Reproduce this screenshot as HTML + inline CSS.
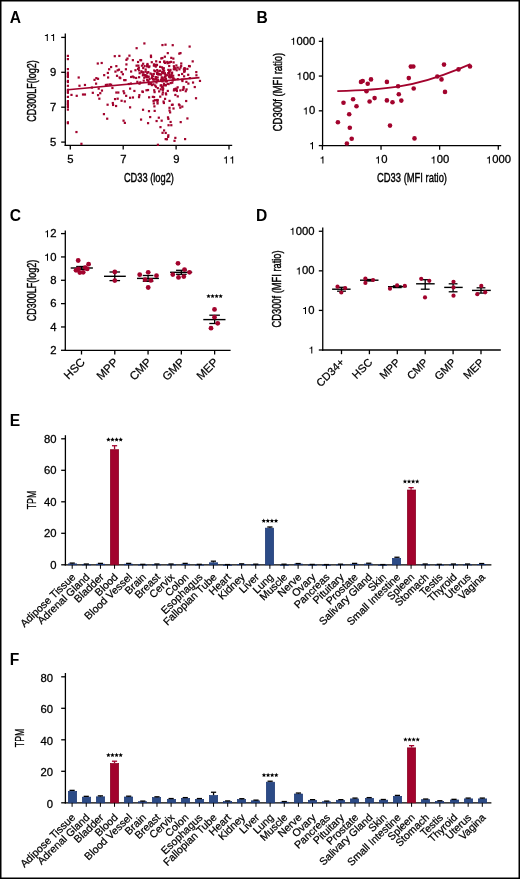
<!DOCTYPE html>
<html><head><meta charset="utf-8"><style>
html,body{margin:0;padding:0;background:#fff;width:520px;height:879px;overflow:hidden;}
svg{display:block;font-family:"Liberation Sans",sans-serif;will-change:transform;}
</style></head><body>
<svg width="520" height="879" viewBox="0 0 520 879" font-family="Liberation Sans, sans-serif">
<rect x="0" y="0" width="520" height="879" fill="#fff"/>
<text x="9.80" y="23.00" font-size="15.6" text-anchor="start" font-weight="bold" >A</text>
<line x1="65.30" y1="33.50" x2="65.30" y2="146.05" stroke="#000" stroke-width="1.3"/>
<line x1="64.65" y1="145.40" x2="232.20" y2="145.40" stroke="#000" stroke-width="1.3"/>
<line x1="61.20" y1="37.40" x2="65.30" y2="37.40" stroke="#000" stroke-width="1.3"/>
<polygon points="46.79,40.95 47.81,40.95 47.81,33.89 46.98,33.89 46.79,34.40 46.15,35.05 44.85,35.30 44.85,35.98 46.79,35.98" fill="#000"/>
<polygon points="53.08,40.95 54.09,40.95 54.09,33.89 53.27,33.89 53.08,34.40 52.43,35.05 51.13,35.30 51.13,35.98 53.08,35.98" fill="#000"/>
<line x1="61.20" y1="72.30" x2="65.30" y2="72.30" stroke="#000" stroke-width="1.3"/>
<text x="0" y="0" font-size="10" stroke="#000" stroke-width="0.26" transform="translate(50.12 75.85) scale(1.13 1)">9</text>
<line x1="61.20" y1="107.20" x2="65.30" y2="107.20" stroke="#000" stroke-width="1.3"/>
<text x="0" y="0" font-size="10" stroke="#000" stroke-width="0.26" transform="translate(50.12 110.75) scale(1.13 1)">7</text>
<line x1="61.20" y1="142.10" x2="65.30" y2="142.10" stroke="#000" stroke-width="1.3"/>
<text x="0" y="0" font-size="10" stroke="#000" stroke-width="0.26" transform="translate(50.12 145.65) scale(1.13 1)">5</text>
<line x1="70.30" y1="145.40" x2="70.30" y2="149.60" stroke="#000" stroke-width="1.3"/>
<text x="0" y="0" font-size="10" stroke="#000" stroke-width="0.26" transform="translate(67.36 163.40) scale(1.13 1)">5</text>
<line x1="123.20" y1="145.40" x2="123.20" y2="149.60" stroke="#000" stroke-width="1.3"/>
<text x="0" y="0" font-size="10" stroke="#000" stroke-width="0.26" transform="translate(120.26 163.40) scale(1.13 1)">7</text>
<line x1="176.10" y1="145.40" x2="176.10" y2="149.60" stroke="#000" stroke-width="1.3"/>
<text x="0" y="0" font-size="10" stroke="#000" stroke-width="0.26" transform="translate(173.16 163.40) scale(1.13 1)">9</text>
<line x1="229.00" y1="145.40" x2="229.00" y2="149.60" stroke="#000" stroke-width="1.3"/>
<polygon points="225.88,163.40 226.89,163.40 226.89,156.34 226.07,156.34 225.88,156.85 225.23,157.50 223.93,157.75 223.93,158.43 225.88,158.43" fill="#000"/>
<polygon points="232.16,163.40 233.18,163.40 233.18,156.34 232.35,156.34 232.16,156.85 231.52,157.50 230.22,157.75 230.22,158.43 232.16,158.43" fill="#000"/>
<text x="148.90" y="181.50" font-size="13.2" text-anchor="middle" textLength="50" lengthAdjust="spacingAndGlyphs" stroke="#000" stroke-width="0.42" >CD33 (log2)</text>
<text x="36.00" y="91.00" font-size="13.2" text-anchor="middle" textLength="61.5" lengthAdjust="spacingAndGlyphs" transform="rotate(-90 36.00 91.00)" stroke="#000" stroke-width="0.42" >CD300LF(log2)</text>
<rect x="66.80" y="54.80" width="2.2" height="2.2" fill="#a2032d"/>
<rect x="66.80" y="58.00" width="2.2" height="2.2" fill="#a2032d"/>
<rect x="66.80" y="68.00" width="2.2" height="2.2" fill="#a2032d"/>
<rect x="66.80" y="71.60" width="2.2" height="2.2" fill="#a2032d"/>
<rect x="66.80" y="73.00" width="2.2" height="2.2" fill="#a2032d"/>
<rect x="66.80" y="74.70" width="2.2" height="2.2" fill="#a2032d"/>
<rect x="66.80" y="75.90" width="2.2" height="2.2" fill="#a2032d"/>
<rect x="66.80" y="79.80" width="2.2" height="2.2" fill="#a2032d"/>
<rect x="66.80" y="80.90" width="2.2" height="2.2" fill="#a2032d"/>
<rect x="66.80" y="84.70" width="2.2" height="2.2" fill="#a2032d"/>
<rect x="66.80" y="88.70" width="2.2" height="2.2" fill="#a2032d"/>
<rect x="66.80" y="90.30" width="2.2" height="2.2" fill="#a2032d"/>
<rect x="66.80" y="91.70" width="2.2" height="2.2" fill="#a2032d"/>
<rect x="66.80" y="95.80" width="2.2" height="2.2" fill="#a2032d"/>
<rect x="66.80" y="100.00" width="2.2" height="2.2" fill="#a2032d"/>
<rect x="66.80" y="101.40" width="2.2" height="2.2" fill="#a2032d"/>
<rect x="66.80" y="102.80" width="2.2" height="2.2" fill="#a2032d"/>
<rect x="66.80" y="104.10" width="2.2" height="2.2" fill="#a2032d"/>
<rect x="66.80" y="106.00" width="2.2" height="2.2" fill="#a2032d"/>
<rect x="66.80" y="108.50" width="2.2" height="2.2" fill="#a2032d"/>
<rect x="66.80" y="121.20" width="2.2" height="2.2" fill="#a2032d"/>
<rect x="66.80" y="122.10" width="2.2" height="2.2" fill="#a2032d"/>
<rect x="77.59" y="76.41" width="2.2" height="2.2" fill="#a2032d"/>
<rect x="78.37" y="84.65" width="2.2" height="2.2" fill="#a2032d"/>
<rect x="83.86" y="83.86" width="2.2" height="2.2" fill="#a2032d"/>
<rect x="75.62" y="94.72" width="2.2" height="2.2" fill="#a2032d"/>
<rect x="70.39" y="93.80" width="2.2" height="2.2" fill="#a2032d"/>
<rect x="81.90" y="93.41" width="2.2" height="2.2" fill="#a2032d"/>
<rect x="83.86" y="93.41" width="2.2" height="2.2" fill="#a2032d"/>
<rect x="75.36" y="130.94" width="2.2" height="2.2" fill="#a2032d"/>
<rect x="80.33" y="142.72" width="2.2" height="2.2" fill="#a2032d"/>
<rect x="91.71" y="91.71" width="2.2" height="2.2" fill="#a2032d"/>
<rect x="90.80" y="86.48" width="2.2" height="2.2" fill="#a2032d"/>
<rect x="96.68" y="62.41" width="2.2" height="2.2" fill="#a2032d"/>
<rect x="100.60" y="61.89" width="2.2" height="2.2" fill="#a2032d"/>
<rect x="93.41" y="78.76" width="2.2" height="2.2" fill="#a2032d"/>
<rect x="95.24" y="77.06" width="2.2" height="2.2" fill="#a2032d"/>
<rect x="96.94" y="77.71" width="2.2" height="2.2" fill="#a2032d"/>
<rect x="94.98" y="82.55" width="2.2" height="2.2" fill="#a2032d"/>
<rect x="97.60" y="87.52" width="2.2" height="2.2" fill="#a2032d"/>
<rect x="96.94" y="94.06" width="2.2" height="2.2" fill="#a2032d"/>
<rect x="99.17" y="92.10" width="2.2" height="2.2" fill="#a2032d"/>
<rect x="98.25" y="97.59" width="2.2" height="2.2" fill="#a2032d"/>
<rect x="100.87" y="89.48" width="2.2" height="2.2" fill="#a2032d"/>
<rect x="103.09" y="74.05" width="2.2" height="2.2" fill="#a2032d"/>
<rect x="102.83" y="113.03" width="2.2" height="2.2" fill="#a2032d"/>
<rect x="106.10" y="117.60" width="2.2" height="2.2" fill="#a2032d"/>
<rect x="106.49" y="103.61" width="2.2" height="2.2" fill="#a2032d"/>
<rect x="107.01" y="76.41" width="2.2" height="2.2" fill="#a2032d"/>
<rect x="106.75" y="71.83" width="2.2" height="2.2" fill="#a2032d"/>
<rect x="108.06" y="68.17" width="2.2" height="2.2" fill="#a2032d"/>
<rect x="110.02" y="65.94" width="2.2" height="2.2" fill="#a2032d"/>
<rect x="104.79" y="83.86" width="2.2" height="2.2" fill="#a2032d"/>
<rect x="106.49" y="83.60" width="2.2" height="2.2" fill="#a2032d"/>
<rect x="108.71" y="83.34" width="2.2" height="2.2" fill="#a2032d"/>
<rect x="110.02" y="83.60" width="2.2" height="2.2" fill="#a2032d"/>
<rect x="111.33" y="86.87" width="2.2" height="2.2" fill="#a2032d"/>
<rect x="111.72" y="101.91" width="2.2" height="2.2" fill="#a2032d"/>
<rect x="111.98" y="103.87" width="2.2" height="2.2" fill="#a2032d"/>
<rect x="113.68" y="55.09" width="2.2" height="2.2" fill="#a2032d"/>
<rect x="115.25" y="65.03" width="2.2" height="2.2" fill="#a2032d"/>
<rect x="114.34" y="70.52" width="2.2" height="2.2" fill="#a2032d"/>
<rect x="115.91" y="74.71" width="2.2" height="2.2" fill="#a2032d"/>
<rect x="116.56" y="69.21" width="2.2" height="2.2" fill="#a2032d"/>
<rect x="117.87" y="68.56" width="2.2" height="2.2" fill="#a2032d"/>
<rect x="118.26" y="54.83" width="2.2" height="2.2" fill="#a2032d"/>
<rect x="118.52" y="76.41" width="2.2" height="2.2" fill="#a2032d"/>
<rect x="119.18" y="77.06" width="2.2" height="2.2" fill="#a2032d"/>
<rect x="115.25" y="91.45" width="2.2" height="2.2" fill="#a2032d"/>
<rect x="117.21" y="91.45" width="2.2" height="2.2" fill="#a2032d"/>
<rect x="113.95" y="97.99" width="2.2" height="2.2" fill="#a2032d"/>
<rect x="116.56" y="97.59" width="2.2" height="2.2" fill="#a2032d"/>
<rect x="114.99" y="104.92" width="2.2" height="2.2" fill="#a2032d"/>
<rect x="120.48" y="70.91" width="2.2" height="2.2" fill="#a2032d"/>
<rect x="121.79" y="73.14" width="2.2" height="2.2" fill="#a2032d"/>
<rect x="123.10" y="79.02" width="2.2" height="2.2" fill="#a2032d"/>
<rect x="124.41" y="79.02" width="2.2" height="2.2" fill="#a2032d"/>
<rect x="120.48" y="99.69" width="2.2" height="2.2" fill="#a2032d"/>
<rect x="123.75" y="100.34" width="2.2" height="2.2" fill="#a2032d"/>
<rect x="122.45" y="90.14" width="2.2" height="2.2" fill="#a2032d"/>
<rect x="123.10" y="92.10" width="2.2" height="2.2" fill="#a2032d"/>
<rect x="125.06" y="94.72" width="2.2" height="2.2" fill="#a2032d"/>
<rect x="124.80" y="68.17" width="2.2" height="2.2" fill="#a2032d"/>
<rect x="125.32" y="63.33" width="2.2" height="2.2" fill="#a2032d"/>
<rect x="125.32" y="58.75" width="2.2" height="2.2" fill="#a2032d"/>
<rect x="126.37" y="57.44" width="2.2" height="2.2" fill="#a2032d"/>
<rect x="128.33" y="54.56" width="2.2" height="2.2" fill="#a2032d"/>
<rect x="122.45" y="119.57" width="2.2" height="2.2" fill="#a2032d"/>
<rect x="123.75" y="121.79" width="2.2" height="2.2" fill="#a2032d"/>
<rect x="128.99" y="87.52" width="2.2" height="2.2" fill="#a2032d"/>
<rect x="128.99" y="96.68" width="2.2" height="2.2" fill="#a2032d"/>
<rect x="128.99" y="106.23" width="2.2" height="2.2" fill="#a2032d"/>
<rect x="127.68" y="82.95" width="2.2" height="2.2" fill="#a2032d"/>
<rect x="139.27" y="58.97" width="2.2" height="2.2" fill="#a2032d"/>
<rect x="171.62" y="44.08" width="2.2" height="2.2" fill="#a2032d"/>
<rect x="163.65" y="72.42" width="2.2" height="2.2" fill="#a2032d"/>
<rect x="146.98" y="75.79" width="2.2" height="2.2" fill="#a2032d"/>
<rect x="137.90" y="69.29" width="2.2" height="2.2" fill="#a2032d"/>
<rect x="172.09" y="74.65" width="2.2" height="2.2" fill="#a2032d"/>
<rect x="152.72" y="102.36" width="2.2" height="2.2" fill="#a2032d"/>
<rect x="160.92" y="66.27" width="2.2" height="2.2" fill="#a2032d"/>
<rect x="162.69" y="67.10" width="2.2" height="2.2" fill="#a2032d"/>
<rect x="153.16" y="69.35" width="2.2" height="2.2" fill="#a2032d"/>
<rect x="195.34" y="74.19" width="2.2" height="2.2" fill="#a2032d"/>
<rect x="162.97" y="82.66" width="2.2" height="2.2" fill="#a2032d"/>
<rect x="195.20" y="70.99" width="2.2" height="2.2" fill="#a2032d"/>
<rect x="134.36" y="69.13" width="2.2" height="2.2" fill="#a2032d"/>
<rect x="171.57" y="103.59" width="2.2" height="2.2" fill="#a2032d"/>
<rect x="143.28" y="42.34" width="2.2" height="2.2" fill="#a2032d"/>
<rect x="154.90" y="85.63" width="2.2" height="2.2" fill="#a2032d"/>
<rect x="164.85" y="80.20" width="2.2" height="2.2" fill="#a2032d"/>
<rect x="173.50" y="78.28" width="2.2" height="2.2" fill="#a2032d"/>
<rect x="158.75" y="73.25" width="2.2" height="2.2" fill="#a2032d"/>
<rect x="152.95" y="63.28" width="2.2" height="2.2" fill="#a2032d"/>
<rect x="148.01" y="96.23" width="2.2" height="2.2" fill="#a2032d"/>
<rect x="144.77" y="75.27" width="2.2" height="2.2" fill="#a2032d"/>
<rect x="132.76" y="76.29" width="2.2" height="2.2" fill="#a2032d"/>
<rect x="188.73" y="77.00" width="2.2" height="2.2" fill="#a2032d"/>
<rect x="161.78" y="71.85" width="2.2" height="2.2" fill="#a2032d"/>
<rect x="163.83" y="61.83" width="2.2" height="2.2" fill="#a2032d"/>
<rect x="157.82" y="73.07" width="2.2" height="2.2" fill="#a2032d"/>
<rect x="170.48" y="76.28" width="2.2" height="2.2" fill="#a2032d"/>
<rect x="171.02" y="71.51" width="2.2" height="2.2" fill="#a2032d"/>
<rect x="161.35" y="43.97" width="2.2" height="2.2" fill="#a2032d"/>
<rect x="150.74" y="83.99" width="2.2" height="2.2" fill="#a2032d"/>
<rect x="130.01" y="70.43" width="2.2" height="2.2" fill="#a2032d"/>
<rect x="182.53" y="87.46" width="2.2" height="2.2" fill="#a2032d"/>
<rect x="167.11" y="72.00" width="2.2" height="2.2" fill="#a2032d"/>
<rect x="146.92" y="88.94" width="2.2" height="2.2" fill="#a2032d"/>
<rect x="173.79" y="68.07" width="2.2" height="2.2" fill="#a2032d"/>
<rect x="179.42" y="66.42" width="2.2" height="2.2" fill="#a2032d"/>
<rect x="154.06" y="84.39" width="2.2" height="2.2" fill="#a2032d"/>
<rect x="163.01" y="78.61" width="2.2" height="2.2" fill="#a2032d"/>
<rect x="175.78" y="89.89" width="2.2" height="2.2" fill="#a2032d"/>
<rect x="170.29" y="73.74" width="2.2" height="2.2" fill="#a2032d"/>
<rect x="142.44" y="71.13" width="2.2" height="2.2" fill="#a2032d"/>
<rect x="161.77" y="91.30" width="2.2" height="2.2" fill="#a2032d"/>
<rect x="168.80" y="61.18" width="2.2" height="2.2" fill="#a2032d"/>
<rect x="154.68" y="75.98" width="2.2" height="2.2" fill="#a2032d"/>
<rect x="163.80" y="72.21" width="2.2" height="2.2" fill="#a2032d"/>
<rect x="179.26" y="89.32" width="2.2" height="2.2" fill="#a2032d"/>
<rect x="183.37" y="68.21" width="2.2" height="2.2" fill="#a2032d"/>
<rect x="161.87" y="67.90" width="2.2" height="2.2" fill="#a2032d"/>
<rect x="150.78" y="76.85" width="2.2" height="2.2" fill="#a2032d"/>
<rect x="168.10" y="64.90" width="2.2" height="2.2" fill="#a2032d"/>
<rect x="188.54" y="45.47" width="2.2" height="2.2" fill="#a2032d"/>
<rect x="131.68" y="75.46" width="2.2" height="2.2" fill="#a2032d"/>
<rect x="145.51" y="75.32" width="2.2" height="2.2" fill="#a2032d"/>
<rect x="151.80" y="78.06" width="2.2" height="2.2" fill="#a2032d"/>
<rect x="183.70" y="69.34" width="2.2" height="2.2" fill="#a2032d"/>
<rect x="143.99" y="73.95" width="2.2" height="2.2" fill="#a2032d"/>
<rect x="171.72" y="79.41" width="2.2" height="2.2" fill="#a2032d"/>
<rect x="166.68" y="52.02" width="2.2" height="2.2" fill="#a2032d"/>
<rect x="155.89" y="63.77" width="2.2" height="2.2" fill="#a2032d"/>
<rect x="130.03" y="75.90" width="2.2" height="2.2" fill="#a2032d"/>
<rect x="154.60" y="63.80" width="2.2" height="2.2" fill="#a2032d"/>
<rect x="183.78" y="67.58" width="2.2" height="2.2" fill="#a2032d"/>
<rect x="157.56" y="72.94" width="2.2" height="2.2" fill="#a2032d"/>
<rect x="147.18" y="71.03" width="2.2" height="2.2" fill="#a2032d"/>
<rect x="150.68" y="61.13" width="2.2" height="2.2" fill="#a2032d"/>
<rect x="170.18" y="56.75" width="2.2" height="2.2" fill="#a2032d"/>
<rect x="145.39" y="89.16" width="2.2" height="2.2" fill="#a2032d"/>
<rect x="179.38" y="51.99" width="2.2" height="2.2" fill="#a2032d"/>
<rect x="138.55" y="72.08" width="2.2" height="2.2" fill="#a2032d"/>
<rect x="176.65" y="95.29" width="2.2" height="2.2" fill="#a2032d"/>
<rect x="178.31" y="68.22" width="2.2" height="2.2" fill="#a2032d"/>
<rect x="149.86" y="54.55" width="2.2" height="2.2" fill="#a2032d"/>
<rect x="174.27" y="93.86" width="2.2" height="2.2" fill="#a2032d"/>
<rect x="137.27" y="64.54" width="2.2" height="2.2" fill="#a2032d"/>
<rect x="138.40" y="82.58" width="2.2" height="2.2" fill="#a2032d"/>
<rect x="163.75" y="55.62" width="2.2" height="2.2" fill="#a2032d"/>
<rect x="170.08" y="75.23" width="2.2" height="2.2" fill="#a2032d"/>
<rect x="136.26" y="80.72" width="2.2" height="2.2" fill="#a2032d"/>
<rect x="165.05" y="93.31" width="2.2" height="2.2" fill="#a2032d"/>
<rect x="156.42" y="71.11" width="2.2" height="2.2" fill="#a2032d"/>
<rect x="147.57" y="75.55" width="2.2" height="2.2" fill="#a2032d"/>
<rect x="168.73" y="76.22" width="2.2" height="2.2" fill="#a2032d"/>
<rect x="155.35" y="81.40" width="2.2" height="2.2" fill="#a2032d"/>
<rect x="161.54" y="77.18" width="2.2" height="2.2" fill="#a2032d"/>
<rect x="143.18" y="76.65" width="2.2" height="2.2" fill="#a2032d"/>
<rect x="142.06" y="62.68" width="2.2" height="2.2" fill="#a2032d"/>
<rect x="162.79" y="101.91" width="2.2" height="2.2" fill="#a2032d"/>
<rect x="177.74" y="73.96" width="2.2" height="2.2" fill="#a2032d"/>
<rect x="156.69" y="87.04" width="2.2" height="2.2" fill="#a2032d"/>
<rect x="184.66" y="90.13" width="2.2" height="2.2" fill="#a2032d"/>
<rect x="156.57" y="76.41" width="2.2" height="2.2" fill="#a2032d"/>
<rect x="153.99" y="70.10" width="2.2" height="2.2" fill="#a2032d"/>
<rect x="144.60" y="70.58" width="2.2" height="2.2" fill="#a2032d"/>
<rect x="167.51" y="61.59" width="2.2" height="2.2" fill="#a2032d"/>
<rect x="174.67" y="87.53" width="2.2" height="2.2" fill="#a2032d"/>
<rect x="183.39" y="70.34" width="2.2" height="2.2" fill="#a2032d"/>
<rect x="137.92" y="96.04" width="2.2" height="2.2" fill="#a2032d"/>
<rect x="168.26" y="73.94" width="2.2" height="2.2" fill="#a2032d"/>
<rect x="137.75" y="66.68" width="2.2" height="2.2" fill="#a2032d"/>
<rect x="175.53" y="88.07" width="2.2" height="2.2" fill="#a2032d"/>
<rect x="173.08" y="65.93" width="2.2" height="2.2" fill="#a2032d"/>
<rect x="148.50" y="77.78" width="2.2" height="2.2" fill="#a2032d"/>
<rect x="180.08" y="64.87" width="2.2" height="2.2" fill="#a2032d"/>
<rect x="141.77" y="74.21" width="2.2" height="2.2" fill="#a2032d"/>
<rect x="145.54" y="74.45" width="2.2" height="2.2" fill="#a2032d"/>
<rect x="151.07" y="74.86" width="2.2" height="2.2" fill="#a2032d"/>
<rect x="146.23" y="64.16" width="2.2" height="2.2" fill="#a2032d"/>
<rect x="151.73" y="95.75" width="2.2" height="2.2" fill="#a2032d"/>
<rect x="161.22" y="72.02" width="2.2" height="2.2" fill="#a2032d"/>
<rect x="146.19" y="71.79" width="2.2" height="2.2" fill="#a2032d"/>
<rect x="187.95" y="64.92" width="2.2" height="2.2" fill="#a2032d"/>
<rect x="160.28" y="84.16" width="2.2" height="2.2" fill="#a2032d"/>
<rect x="153.48" y="91.04" width="2.2" height="2.2" fill="#a2032d"/>
<rect x="135.04" y="76.87" width="2.2" height="2.2" fill="#a2032d"/>
<rect x="136.96" y="60.88" width="2.2" height="2.2" fill="#a2032d"/>
<rect x="181.70" y="88.76" width="2.2" height="2.2" fill="#a2032d"/>
<rect x="153.13" y="89.15" width="2.2" height="2.2" fill="#a2032d"/>
<rect x="152.34" y="83.25" width="2.2" height="2.2" fill="#a2032d"/>
<rect x="140.69" y="71.19" width="2.2" height="2.2" fill="#a2032d"/>
<rect x="141.31" y="90.37" width="2.2" height="2.2" fill="#a2032d"/>
<rect x="155.89" y="71.99" width="2.2" height="2.2" fill="#a2032d"/>
<rect x="159.61" y="88.23" width="2.2" height="2.2" fill="#a2032d"/>
<rect x="191.60" y="60.29" width="2.2" height="2.2" fill="#a2032d"/>
<rect x="157.02" y="73.27" width="2.2" height="2.2" fill="#a2032d"/>
<rect x="163.18" y="60.38" width="2.2" height="2.2" fill="#a2032d"/>
<rect x="135.48" y="64.56" width="2.2" height="2.2" fill="#a2032d"/>
<rect x="146.37" y="62.89" width="2.2" height="2.2" fill="#a2032d"/>
<rect x="174.58" y="67.14" width="2.2" height="2.2" fill="#a2032d"/>
<rect x="133.29" y="89.86" width="2.2" height="2.2" fill="#a2032d"/>
<rect x="164.74" y="84.19" width="2.2" height="2.2" fill="#a2032d"/>
<rect x="163.02" y="69.69" width="2.2" height="2.2" fill="#a2032d"/>
<rect x="153.00" y="95.96" width="2.2" height="2.2" fill="#a2032d"/>
<rect x="168.12" y="70.06" width="2.2" height="2.2" fill="#a2032d"/>
<rect x="138.02" y="76.12" width="2.2" height="2.2" fill="#a2032d"/>
<rect x="144.22" y="74.07" width="2.2" height="2.2" fill="#a2032d"/>
<rect x="173.14" y="88.09" width="2.2" height="2.2" fill="#a2032d"/>
<rect x="162.40" y="69.37" width="2.2" height="2.2" fill="#a2032d"/>
<rect x="163.96" y="97.77" width="2.2" height="2.2" fill="#a2032d"/>
<rect x="187.10" y="73.69" width="2.2" height="2.2" fill="#a2032d"/>
<rect x="191.95" y="81.45" width="2.2" height="2.2" fill="#a2032d"/>
<rect x="164.74" y="92.28" width="2.2" height="2.2" fill="#a2032d"/>
<rect x="186.29" y="67.83" width="2.2" height="2.2" fill="#a2032d"/>
<rect x="169.55" y="82.00" width="2.2" height="2.2" fill="#a2032d"/>
<rect x="168.57" y="70.25" width="2.2" height="2.2" fill="#a2032d"/>
<rect x="146.01" y="65.29" width="2.2" height="2.2" fill="#a2032d"/>
<rect x="172.83" y="89.29" width="2.2" height="2.2" fill="#a2032d"/>
<rect x="167.96" y="75.58" width="2.2" height="2.2" fill="#a2032d"/>
<rect x="154.99" y="77.36" width="2.2" height="2.2" fill="#a2032d"/>
<rect x="181.32" y="79.92" width="2.2" height="2.2" fill="#a2032d"/>
<rect x="146.07" y="78.60" width="2.2" height="2.2" fill="#a2032d"/>
<rect x="143.50" y="65.02" width="2.2" height="2.2" fill="#a2032d"/>
<rect x="175.60" y="69.16" width="2.2" height="2.2" fill="#a2032d"/>
<rect x="185.31" y="80.80" width="2.2" height="2.2" fill="#a2032d"/>
<rect x="174.29" y="88.83" width="2.2" height="2.2" fill="#a2032d"/>
<rect x="136.96" y="67.78" width="2.2" height="2.2" fill="#a2032d"/>
<rect x="158.06" y="90.31" width="2.2" height="2.2" fill="#a2032d"/>
<rect x="159.13" y="95.56" width="2.2" height="2.2" fill="#a2032d"/>
<rect x="150.57" y="73.16" width="2.2" height="2.2" fill="#a2032d"/>
<rect x="161.55" y="86.36" width="2.2" height="2.2" fill="#a2032d"/>
<rect x="158.99" y="65.76" width="2.2" height="2.2" fill="#a2032d"/>
<rect x="156.13" y="68.95" width="2.2" height="2.2" fill="#a2032d"/>
<rect x="176.54" y="86.23" width="2.2" height="2.2" fill="#a2032d"/>
<rect x="162.47" y="100.44" width="2.2" height="2.2" fill="#a2032d"/>
<rect x="144.55" y="75.31" width="2.2" height="2.2" fill="#a2032d"/>
<rect x="161.13" y="70.86" width="2.2" height="2.2" fill="#a2032d"/>
<rect x="158.99" y="69.64" width="2.2" height="2.2" fill="#a2032d"/>
<rect x="185.08" y="99.92" width="2.2" height="2.2" fill="#a2032d"/>
<rect x="154.68" y="65.51" width="2.2" height="2.2" fill="#a2032d"/>
<rect x="194.92" y="97.15" width="2.2" height="2.2" fill="#a2032d"/>
<rect x="148.31" y="65.31" width="2.2" height="2.2" fill="#a2032d"/>
<rect x="161.38" y="85.55" width="2.2" height="2.2" fill="#a2032d"/>
<rect x="147.66" y="66.01" width="2.2" height="2.2" fill="#a2032d"/>
<rect x="152.76" y="78.53" width="2.2" height="2.2" fill="#a2032d"/>
<rect x="172.23" y="57.50" width="2.2" height="2.2" fill="#a2032d"/>
<rect x="166.16" y="60.85" width="2.2" height="2.2" fill="#a2032d"/>
<rect x="172.49" y="61.29" width="2.2" height="2.2" fill="#a2032d"/>
<rect x="140.82" y="64.57" width="2.2" height="2.2" fill="#a2032d"/>
<rect x="158.82" y="60.88" width="2.2" height="2.2" fill="#a2032d"/>
<rect x="163.63" y="75.83" width="2.2" height="2.2" fill="#a2032d"/>
<rect x="161.36" y="77.42" width="2.2" height="2.2" fill="#a2032d"/>
<rect x="175.28" y="64.36" width="2.2" height="2.2" fill="#a2032d"/>
<rect x="159.93" y="73.52" width="2.2" height="2.2" fill="#a2032d"/>
<rect x="146.36" y="64.52" width="2.2" height="2.2" fill="#a2032d"/>
<rect x="152.06" y="75.18" width="2.2" height="2.2" fill="#a2032d"/>
<rect x="165.71" y="80.22" width="2.2" height="2.2" fill="#a2032d"/>
<rect x="147.71" y="82.99" width="2.2" height="2.2" fill="#a2032d"/>
<rect x="167.24" y="68.80" width="2.2" height="2.2" fill="#a2032d"/>
<rect x="159.54" y="84.38" width="2.2" height="2.2" fill="#a2032d"/>
<rect x="167.50" y="82.98" width="2.2" height="2.2" fill="#a2032d"/>
<rect x="161.77" y="88.75" width="2.2" height="2.2" fill="#a2032d"/>
<rect x="198.88" y="79.82" width="2.2" height="2.2" fill="#a2032d"/>
<rect x="131.85" y="96.38" width="2.2" height="2.2" fill="#a2032d"/>
<rect x="149.91" y="55.91" width="2.2" height="2.2" fill="#a2032d"/>
<rect x="168.16" y="71.71" width="2.2" height="2.2" fill="#a2032d"/>
<rect x="152.79" y="64.50" width="2.2" height="2.2" fill="#a2032d"/>
<rect x="161.09" y="76.68" width="2.2" height="2.2" fill="#a2032d"/>
<rect x="160.76" y="79.11" width="2.2" height="2.2" fill="#a2032d"/>
<rect x="149.95" y="82.37" width="2.2" height="2.2" fill="#a2032d"/>
<rect x="145.91" y="76.02" width="2.2" height="2.2" fill="#a2032d"/>
<rect x="161.45" y="93.28" width="2.2" height="2.2" fill="#a2032d"/>
<rect x="183.37" y="67.06" width="2.2" height="2.2" fill="#a2032d"/>
<rect x="166.10" y="74.08" width="2.2" height="2.2" fill="#a2032d"/>
<rect x="163.19" y="60.77" width="2.2" height="2.2" fill="#a2032d"/>
<rect x="181.09" y="78.47" width="2.2" height="2.2" fill="#a2032d"/>
<rect x="181.03" y="72.87" width="2.2" height="2.2" fill="#a2032d"/>
<rect x="155.33" y="78.57" width="2.2" height="2.2" fill="#a2032d"/>
<rect x="193.67" y="85.94" width="2.2" height="2.2" fill="#a2032d"/>
<rect x="172.23" y="77.12" width="2.2" height="2.2" fill="#a2032d"/>
<rect x="176.63" y="77.98" width="2.2" height="2.2" fill="#a2032d"/>
<rect x="172.39" y="77.58" width="2.2" height="2.2" fill="#a2032d"/>
<rect x="147.40" y="80.00" width="2.2" height="2.2" fill="#a2032d"/>
<rect x="164.50" y="75.04" width="2.2" height="2.2" fill="#a2032d"/>
<rect x="170.73" y="72.45" width="2.2" height="2.2" fill="#a2032d"/>
<rect x="142.17" y="73.19" width="2.2" height="2.2" fill="#a2032d"/>
<rect x="152.69" y="72.83" width="2.2" height="2.2" fill="#a2032d"/>
<rect x="156.63" y="79.62" width="2.2" height="2.2" fill="#a2032d"/>
<rect x="131.77" y="59.06" width="2.2" height="2.2" fill="#a2032d"/>
<rect x="160.63" y="76.28" width="2.2" height="2.2" fill="#a2032d"/>
<rect x="140.32" y="70.20" width="2.2" height="2.2" fill="#a2032d"/>
<rect x="144.57" y="68.42" width="2.2" height="2.2" fill="#a2032d"/>
<rect x="140.01" y="59.11" width="2.2" height="2.2" fill="#a2032d"/>
<rect x="172.72" y="68.11" width="2.2" height="2.2" fill="#a2032d"/>
<rect x="161.31" y="80.26" width="2.2" height="2.2" fill="#a2032d"/>
<rect x="157.07" y="79.05" width="2.2" height="2.2" fill="#a2032d"/>
<rect x="164.86" y="77.82" width="2.2" height="2.2" fill="#a2032d"/>
<rect x="160.14" y="79.35" width="2.2" height="2.2" fill="#a2032d"/>
<rect x="139.21" y="81.29" width="2.2" height="2.2" fill="#a2032d"/>
<rect x="160.08" y="78.53" width="2.2" height="2.2" fill="#a2032d"/>
<rect x="158.22" y="70.02" width="2.2" height="2.2" fill="#a2032d"/>
<rect x="164.35" y="84.05" width="2.2" height="2.2" fill="#a2032d"/>
<rect x="154.31" y="78.12" width="2.2" height="2.2" fill="#a2032d"/>
<rect x="146.56" y="79.30" width="2.2" height="2.2" fill="#a2032d"/>
<rect x="160.22" y="57.33" width="2.2" height="2.2" fill="#a2032d"/>
<rect x="180.16" y="62.39" width="2.2" height="2.2" fill="#a2032d"/>
<rect x="161.30" y="56.93" width="2.2" height="2.2" fill="#a2032d"/>
<rect x="129.76" y="82.41" width="2.2" height="2.2" fill="#a2032d"/>
<rect x="135.53" y="47.09" width="2.2" height="2.2" fill="#a2032d"/>
<rect x="155.73" y="64.12" width="2.2" height="2.2" fill="#a2032d"/>
<rect x="166.43" y="62.10" width="2.2" height="2.2" fill="#a2032d"/>
<rect x="164.32" y="77.41" width="2.2" height="2.2" fill="#a2032d"/>
<rect x="166.53" y="82.77" width="2.2" height="2.2" fill="#a2032d"/>
<rect x="153.46" y="64.37" width="2.2" height="2.2" fill="#a2032d"/>
<rect x="187.29" y="82.48" width="2.2" height="2.2" fill="#a2032d"/>
<rect x="156.03" y="72.82" width="2.2" height="2.2" fill="#a2032d"/>
<rect x="168.68" y="76.05" width="2.2" height="2.2" fill="#a2032d"/>
<rect x="138.27" y="94.05" width="2.2" height="2.2" fill="#a2032d"/>
<rect x="182.77" y="68.29" width="2.2" height="2.2" fill="#a2032d"/>
<rect x="162.09" y="87.56" width="2.2" height="2.2" fill="#a2032d"/>
<rect x="149.73" y="82.76" width="2.2" height="2.2" fill="#a2032d"/>
<rect x="183.02" y="75.25" width="2.2" height="2.2" fill="#a2032d"/>
<rect x="149.37" y="72.39" width="2.2" height="2.2" fill="#a2032d"/>
<rect x="155.10" y="60.22" width="2.2" height="2.2" fill="#a2032d"/>
<rect x="188.75" y="65.19" width="2.2" height="2.2" fill="#a2032d"/>
<rect x="171.16" y="81.58" width="2.2" height="2.2" fill="#a2032d"/>
<rect x="176.65" y="66.54" width="2.2" height="2.2" fill="#a2032d"/>
<rect x="142.61" y="79.54" width="2.2" height="2.2" fill="#a2032d"/>
<rect x="164.41" y="43.58" width="2.2" height="2.2" fill="#a2032d"/>
<rect x="183.04" y="70.58" width="2.2" height="2.2" fill="#a2032d"/>
<rect x="185.45" y="88.35" width="2.2" height="2.2" fill="#a2032d"/>
<rect x="154.88" y="75.97" width="2.2" height="2.2" fill="#a2032d"/>
<rect x="164.38" y="73.44" width="2.2" height="2.2" fill="#a2032d"/>
<rect x="142.13" y="66.97" width="2.2" height="2.2" fill="#a2032d"/>
<rect x="172.77" y="65.12" width="2.2" height="2.2" fill="#a2032d"/>
<rect x="162.92" y="84.13" width="2.2" height="2.2" fill="#a2032d"/>
<rect x="166.70" y="89.83" width="2.2" height="2.2" fill="#a2032d"/>
<rect x="141.73" y="90.86" width="2.2" height="2.2" fill="#a2032d"/>
<rect x="160.76" y="85.99" width="2.2" height="2.2" fill="#a2032d"/>
<rect x="178.20" y="52.54" width="2.2" height="2.2" fill="#a2032d"/>
<rect x="152.00" y="78.11" width="2.2" height="2.2" fill="#a2032d"/>
<rect x="169.87" y="60.76" width="2.2" height="2.2" fill="#a2032d"/>
<rect x="170.27" y="75.76" width="2.2" height="2.2" fill="#a2032d"/>
<rect x="182.55" y="85.92" width="2.2" height="2.2" fill="#a2032d"/>
<rect x="169.35" y="68.81" width="2.2" height="2.2" fill="#a2032d"/>
<rect x="172.41" y="107.39" width="2.2" height="2.2" fill="#a2032d"/>
<rect x="167.04" y="135.79" width="2.2" height="2.2" fill="#a2032d"/>
<rect x="164.62" y="131.84" width="2.2" height="2.2" fill="#a2032d"/>
<rect x="155.99" y="98.95" width="2.2" height="2.2" fill="#a2032d"/>
<rect x="160.57" y="119.57" width="2.2" height="2.2" fill="#a2032d"/>
<rect x="147.88" y="110.06" width="2.2" height="2.2" fill="#a2032d"/>
<rect x="153.77" y="99.10" width="2.2" height="2.2" fill="#a2032d"/>
<rect x="153.57" y="109.80" width="2.2" height="2.2" fill="#a2032d"/>
<rect x="159.38" y="126.03" width="2.2" height="2.2" fill="#a2032d"/>
<rect x="156.80" y="143.69" width="2.2" height="2.2" fill="#a2032d"/>
<rect x="173.41" y="139.75" width="2.2" height="2.2" fill="#a2032d"/>
<rect x="167.46" y="124.14" width="2.2" height="2.2" fill="#a2032d"/>
<rect x="161.44" y="131.73" width="2.2" height="2.2" fill="#a2032d"/>
<rect x="155.50" y="119.94" width="2.2" height="2.2" fill="#a2032d"/>
<rect x="166.90" y="116.26" width="2.2" height="2.2" fill="#a2032d"/>
<rect x="152.44" y="99.90" width="2.2" height="2.2" fill="#a2032d"/>
<rect x="141.95" y="108.67" width="2.2" height="2.2" fill="#a2032d"/>
<rect x="163.00" y="129.35" width="2.2" height="2.2" fill="#a2032d"/>
<rect x="168.41" y="106.72" width="2.2" height="2.2" fill="#a2032d"/>
<rect x="181.21" y="105.52" width="2.2" height="2.2" fill="#a2032d"/>
<rect x="168.48" y="99.79" width="2.2" height="2.2" fill="#a2032d"/>
<rect x="170.21" y="124.12" width="2.2" height="2.2" fill="#a2032d"/>
<rect x="184.00" y="137.99" width="2.2" height="2.2" fill="#a2032d"/>
<rect x="167.24" y="134.20" width="2.2" height="2.2" fill="#a2032d"/>
<rect x="169.51" y="120.87" width="2.2" height="2.2" fill="#a2032d"/>
<rect x="149.08" y="115.98" width="2.2" height="2.2" fill="#a2032d"/>
<rect x="178.53" y="104.28" width="2.2" height="2.2" fill="#a2032d"/>
<rect x="186.31" y="117.35" width="2.2" height="2.2" fill="#a2032d"/>
<rect x="156.60" y="98.91" width="2.2" height="2.2" fill="#a2032d"/>
<rect x="156.48" y="102.36" width="2.2" height="2.2" fill="#a2032d"/>
<rect x="165.81" y="138.15" width="2.2" height="2.2" fill="#a2032d"/>
<rect x="179.60" y="121.01" width="2.2" height="2.2" fill="#a2032d"/>
<rect x="156.36" y="100.55" width="2.2" height="2.2" fill="#a2032d"/>
<rect x="167.29" y="117.84" width="2.2" height="2.2" fill="#a2032d"/>
<rect x="168.45" y="109.42" width="2.2" height="2.2" fill="#a2032d"/>
<rect x="177.85" y="103.41" width="2.2" height="2.2" fill="#a2032d"/>
<rect x="153.31" y="105.27" width="2.2" height="2.2" fill="#a2032d"/>
<rect x="164.58" y="138.00" width="2.2" height="2.2" fill="#a2032d"/>
<rect x="146.97" y="122.06" width="2.2" height="2.2" fill="#a2032d"/>
<rect x="170.85" y="103.80" width="2.2" height="2.2" fill="#a2032d"/>
<rect x="139.96" y="118.48" width="2.2" height="2.2" fill="#a2032d"/>
<rect x="174.25" y="136.78" width="2.2" height="2.2" fill="#a2032d"/>
<rect x="169.03" y="111.28" width="2.2" height="2.2" fill="#a2032d"/>
<rect x="157.70" y="116.59" width="2.2" height="2.2" fill="#a2032d"/>
<rect x="179.18" y="106.55" width="2.2" height="2.2" fill="#a2032d"/>
<line x1="67.90" y1="89.76" x2="199.50" y2="77.60" stroke="#a2032d" stroke-width="1.7"/>
<text x="256.50" y="23.00" font-size="15.6" text-anchor="start" font-weight="bold" >B</text>
<line x1="322.60" y1="37.70" x2="322.60" y2="146.25" stroke="#000" stroke-width="1.3"/>
<line x1="321.95" y1="145.60" x2="501.20" y2="145.60" stroke="#000" stroke-width="1.3"/>
<line x1="318.80" y1="41.29" x2="322.60" y2="41.29" stroke="#000" stroke-width="1.3"/>
<polygon points="293.12,44.84 294.14,44.84 294.14,37.78 293.32,37.78 293.12,38.29 292.48,38.94 291.18,39.19 291.18,39.87 293.12,39.87" fill="#000"/>
<text x="0" y="0" font-size="10" stroke="#000" stroke-width="0.26" transform="translate(296.45 44.84) scale(1.13 1)">0</text>
<text x="0" y="0" font-size="10" stroke="#000" stroke-width="0.26" transform="translate(302.73 44.84) scale(1.13 1)">0</text>
<text x="0" y="0" font-size="10" stroke="#000" stroke-width="0.26" transform="translate(309.02 44.84) scale(1.13 1)">0</text>
<line x1="318.80" y1="76.06" x2="322.60" y2="76.06" stroke="#000" stroke-width="1.3"/>
<polygon points="299.41,79.61 300.43,79.61 300.43,72.55 299.60,72.55 299.41,73.06 298.76,73.71 297.47,73.96 297.47,74.64 299.41,74.64" fill="#000"/>
<text x="0" y="0" font-size="10" stroke="#000" stroke-width="0.26" transform="translate(302.73 79.61) scale(1.13 1)">0</text>
<text x="0" y="0" font-size="10" stroke="#000" stroke-width="0.26" transform="translate(309.02 79.61) scale(1.13 1)">0</text>
<line x1="318.80" y1="110.83" x2="322.60" y2="110.83" stroke="#000" stroke-width="1.3"/>
<polygon points="305.69,114.38 306.71,114.38 306.71,107.32 305.88,107.32 305.69,107.83 305.05,108.48 303.75,108.73 303.75,109.41 305.69,109.41" fill="#000"/>
<text x="0" y="0" font-size="10" stroke="#000" stroke-width="0.26" transform="translate(309.02 114.38) scale(1.13 1)">0</text>
<line x1="318.80" y1="145.60" x2="322.60" y2="145.60" stroke="#000" stroke-width="1.3"/>
<polygon points="311.98,149.15 312.99,149.15 312.99,142.09 312.17,142.09 311.98,142.60 311.33,143.25 310.03,143.50 310.03,144.18 311.98,144.18" fill="#000"/>
<line x1="322.40" y1="145.60" x2="322.40" y2="149.80" stroke="#000" stroke-width="1.3"/>
<polygon points="322.42,163.40 323.44,163.40 323.44,156.34 322.61,156.34 322.42,156.85 321.77,157.50 320.48,157.75 320.48,158.43 322.42,158.43" fill="#000"/>
<line x1="381.03" y1="145.60" x2="381.03" y2="149.80" stroke="#000" stroke-width="1.3"/>
<polygon points="377.91,163.40 378.92,163.40 378.92,156.34 378.10,156.34 377.91,156.85 377.26,157.50 375.96,157.75 375.96,158.43 377.91,158.43" fill="#000"/>
<text x="0" y="0" font-size="10" stroke="#000" stroke-width="0.26" transform="translate(381.23 163.40) scale(1.13 1)">0</text>
<line x1="439.66" y1="145.60" x2="439.66" y2="149.80" stroke="#000" stroke-width="1.3"/>
<polygon points="433.39,163.40 434.41,163.40 434.41,156.34 433.59,156.34 433.39,156.85 432.75,157.50 431.45,157.75 431.45,158.43 433.39,158.43" fill="#000"/>
<text x="0" y="0" font-size="10" stroke="#000" stroke-width="0.26" transform="translate(436.72 163.40) scale(1.13 1)">0</text>
<text x="0" y="0" font-size="10" stroke="#000" stroke-width="0.26" transform="translate(443.00 163.40) scale(1.13 1)">0</text>
<line x1="498.29" y1="145.60" x2="498.29" y2="149.80" stroke="#000" stroke-width="1.3"/>
<polygon points="488.88,163.40 489.90,163.40 489.90,156.34 489.07,156.34 488.88,156.85 488.24,157.50 486.94,157.75 486.94,158.43 488.88,158.43" fill="#000"/>
<text x="0" y="0" font-size="10" stroke="#000" stroke-width="0.26" transform="translate(492.21 163.40) scale(1.13 1)">0</text>
<text x="0" y="0" font-size="10" stroke="#000" stroke-width="0.26" transform="translate(498.49 163.40) scale(1.13 1)">0</text>
<text x="0" y="0" font-size="10" stroke="#000" stroke-width="0.26" transform="translate(504.77 163.40) scale(1.13 1)">0</text>
<text x="412.00" y="181.50" font-size="13.2" text-anchor="middle" textLength="70" lengthAdjust="spacingAndGlyphs" stroke="#000" stroke-width="0.42" >CD33 (MFI ratio)</text>
<text x="281.80" y="92.00" font-size="13.2" text-anchor="middle" textLength="78.5" lengthAdjust="spacingAndGlyphs" transform="rotate(-90 281.80 92.00)" stroke="#000" stroke-width="0.42" >CD300f (MFI ratio)</text>
<circle cx="337.90" cy="122.30" r="2.3" fill="#a2032d"/>
<circle cx="343.50" cy="102.70" r="2.3" fill="#a2032d"/>
<circle cx="349.20" cy="114.20" r="2.3" fill="#a2032d"/>
<circle cx="349.80" cy="127.70" r="2.3" fill="#a2032d"/>
<circle cx="351.70" cy="138.70" r="2.3" fill="#a2032d"/>
<circle cx="346.90" cy="143.50" r="2.3" fill="#a2032d"/>
<circle cx="353.10" cy="99.20" r="2.3" fill="#a2032d"/>
<circle cx="356.50" cy="106.30" r="2.3" fill="#a2032d"/>
<circle cx="361.00" cy="81.90" r="2.3" fill="#a2032d"/>
<circle cx="362.70" cy="81.00" r="2.3" fill="#a2032d"/>
<circle cx="367.70" cy="83.80" r="2.3" fill="#a2032d"/>
<circle cx="371.00" cy="79.40" r="2.3" fill="#a2032d"/>
<circle cx="366.50" cy="91.20" r="2.3" fill="#a2032d"/>
<circle cx="369.60" cy="101.50" r="2.3" fill="#a2032d"/>
<circle cx="374.60" cy="98.10" r="2.3" fill="#a2032d"/>
<circle cx="386.90" cy="81.90" r="2.3" fill="#a2032d"/>
<circle cx="386.90" cy="100.40" r="2.3" fill="#a2032d"/>
<circle cx="392.50" cy="102.30" r="2.3" fill="#a2032d"/>
<circle cx="390.00" cy="125.60" r="2.3" fill="#a2032d"/>
<circle cx="398.10" cy="86.30" r="2.3" fill="#a2032d"/>
<circle cx="398.80" cy="94.20" r="2.3" fill="#a2032d"/>
<circle cx="401.30" cy="100.60" r="2.3" fill="#a2032d"/>
<circle cx="408.80" cy="78.10" r="2.3" fill="#a2032d"/>
<circle cx="410.80" cy="66.60" r="2.3" fill="#a2032d"/>
<circle cx="413.30" cy="66.50" r="2.3" fill="#a2032d"/>
<circle cx="413.70" cy="88.50" r="2.3" fill="#a2032d"/>
<circle cx="414.50" cy="138.40" r="2.3" fill="#a2032d"/>
<circle cx="444.00" cy="64.60" r="2.3" fill="#a2032d"/>
<circle cx="437.30" cy="76.50" r="2.3" fill="#a2032d"/>
<circle cx="441.50" cy="79.40" r="2.3" fill="#a2032d"/>
<circle cx="445.00" cy="91.90" r="2.3" fill="#a2032d"/>
<circle cx="458.50" cy="69.40" r="2.3" fill="#a2032d"/>
<circle cx="470.00" cy="66.50" r="2.3" fill="#a2032d"/>
<path d="M337.3,91.2 C360,90.6 378,89.8 398,86.7 C420,83.4 437,78 458.5,69.2 L470.4,64.2" fill="none" stroke="#a2032d" stroke-width="1.8"/>
<text x="9.80" y="220.50" font-size="15.6" text-anchor="start" font-weight="bold" >C</text>
<line x1="65.30" y1="230.40" x2="65.30" y2="350.95" stroke="#000" stroke-width="1.3"/>
<line x1="64.65" y1="350.30" x2="230.60" y2="350.30" stroke="#000" stroke-width="1.3"/>
<line x1="61.00" y1="233.60" x2="65.30" y2="233.60" stroke="#000" stroke-width="1.3"/>
<polygon points="46.99,237.30 48.01,237.30 48.01,230.24 47.18,230.24 46.99,230.75 46.35,231.40 45.05,231.65 45.05,232.33 46.99,232.33" fill="#000"/>
<text x="0" y="0" font-size="10" stroke="#000" stroke-width="0.26" transform="translate(50.32 237.30) scale(1.13 1)">2</text>
<line x1="61.00" y1="256.94" x2="65.30" y2="256.94" stroke="#000" stroke-width="1.3"/>
<polygon points="46.99,260.64 48.01,260.64 48.01,253.58 47.18,253.58 46.99,254.09 46.35,254.74 45.05,254.99 45.05,255.67 46.99,255.67" fill="#000"/>
<text x="0" y="0" font-size="10" stroke="#000" stroke-width="0.26" transform="translate(50.32 260.64) scale(1.13 1)">0</text>
<line x1="61.00" y1="280.28" x2="65.30" y2="280.28" stroke="#000" stroke-width="1.3"/>
<text x="0" y="0" font-size="10" stroke="#000" stroke-width="0.26" transform="translate(50.32 283.98) scale(1.13 1)">8</text>
<line x1="61.00" y1="303.62" x2="65.30" y2="303.62" stroke="#000" stroke-width="1.3"/>
<text x="0" y="0" font-size="10" stroke="#000" stroke-width="0.26" transform="translate(50.32 307.32) scale(1.13 1)">6</text>
<line x1="61.00" y1="326.96" x2="65.30" y2="326.96" stroke="#000" stroke-width="1.3"/>
<text x="0" y="0" font-size="10" stroke="#000" stroke-width="0.26" transform="translate(50.32 330.66) scale(1.13 1)">4</text>
<line x1="61.00" y1="350.30" x2="65.30" y2="350.30" stroke="#000" stroke-width="1.3"/>
<text x="0" y="0" font-size="10" stroke="#000" stroke-width="0.26" transform="translate(50.32 354.00) scale(1.13 1)">2</text>
<line x1="81.50" y1="350.30" x2="81.50" y2="354.50" stroke="#000" stroke-width="1.3"/>
<text x="85.70" y="362.80" font-size="11.5" text-anchor="end" transform="rotate(-45 85.70 362.80)" stroke="#000" stroke-width="0.22" >HSC</text>
<line x1="114.78" y1="350.30" x2="114.78" y2="354.50" stroke="#000" stroke-width="1.3"/>
<text x="118.98" y="362.80" font-size="11.5" text-anchor="end" transform="rotate(-45 118.98 362.80)" stroke="#000" stroke-width="0.22" >MPP</text>
<line x1="148.06" y1="350.30" x2="148.06" y2="354.50" stroke="#000" stroke-width="1.3"/>
<text x="152.26" y="362.80" font-size="11.5" text-anchor="end" transform="rotate(-45 152.26 362.80)" stroke="#000" stroke-width="0.22" >CMP</text>
<line x1="181.34" y1="350.30" x2="181.34" y2="354.50" stroke="#000" stroke-width="1.3"/>
<text x="185.54" y="362.80" font-size="11.5" text-anchor="end" transform="rotate(-45 185.54 362.80)" stroke="#000" stroke-width="0.22" >GMP</text>
<line x1="214.62" y1="350.30" x2="214.62" y2="354.50" stroke="#000" stroke-width="1.3"/>
<text x="218.82" y="362.80" font-size="11.5" text-anchor="end" transform="rotate(-45 218.82 362.80)" stroke="#000" stroke-width="0.22" >MEP</text>
<text x="36.00" y="290.60" font-size="13.2" text-anchor="middle" textLength="61.5" lengthAdjust="spacingAndGlyphs" transform="rotate(-90 36.00 290.60)" stroke="#000" stroke-width="0.42" >CD300LF(log2)</text>
<line x1="70.70" y1="268.00" x2="92.90" y2="268.00" stroke="#000" stroke-width="1.4"/>
<line x1="81.50" y1="266.50" x2="81.50" y2="269.50" stroke="#000" stroke-width="1.3"/>
<line x1="76.20" y1="266.50" x2="86.80" y2="266.50" stroke="#000" stroke-width="1.3"/>
<line x1="76.20" y1="269.50" x2="86.80" y2="269.50" stroke="#000" stroke-width="1.3"/>
<circle cx="78.20" cy="260.50" r="2.4" fill="#a2032d"/>
<circle cx="88.60" cy="264.20" r="2.4" fill="#a2032d"/>
<circle cx="85.20" cy="267.60" r="2.4" fill="#a2032d"/>
<circle cx="87.20" cy="268.90" r="2.4" fill="#a2032d"/>
<circle cx="76.00" cy="270.30" r="2.4" fill="#a2032d"/>
<circle cx="78.50" cy="268.90" r="2.4" fill="#a2032d"/>
<circle cx="79.80" cy="272.60" r="2.4" fill="#a2032d"/>
<circle cx="83.20" cy="272.30" r="2.4" fill="#a2032d"/>
<line x1="104.00" y1="276.30" x2="125.80" y2="276.30" stroke="#000" stroke-width="1.4"/>
<line x1="114.78" y1="272.00" x2="114.78" y2="280.60" stroke="#000" stroke-width="1.3"/>
<line x1="109.48" y1="272.00" x2="120.08" y2="272.00" stroke="#000" stroke-width="1.3"/>
<line x1="109.48" y1="280.60" x2="120.08" y2="280.60" stroke="#000" stroke-width="1.3"/>
<circle cx="114.80" cy="272.00" r="2.4" fill="#a2032d"/>
<circle cx="114.80" cy="280.60" r="2.4" fill="#a2032d"/>
<line x1="137.00" y1="278.40" x2="158.90" y2="278.40" stroke="#000" stroke-width="1.4"/>
<line x1="148.06" y1="275.50" x2="148.06" y2="281.30" stroke="#000" stroke-width="1.3"/>
<line x1="142.76" y1="275.50" x2="153.36" y2="275.50" stroke="#000" stroke-width="1.3"/>
<line x1="142.76" y1="281.30" x2="153.36" y2="281.30" stroke="#000" stroke-width="1.3"/>
<circle cx="139.70" cy="274.70" r="2.4" fill="#a2032d"/>
<circle cx="148.20" cy="272.30" r="2.4" fill="#a2032d"/>
<circle cx="156.50" cy="275.70" r="2.4" fill="#a2032d"/>
<circle cx="145.10" cy="279.70" r="2.4" fill="#a2032d"/>
<circle cx="150.90" cy="280.40" r="2.4" fill="#a2032d"/>
<circle cx="148.20" cy="287.50" r="2.4" fill="#a2032d"/>
<line x1="170.10" y1="272.30" x2="192.20" y2="272.30" stroke="#000" stroke-width="1.4"/>
<line x1="181.34" y1="270.30" x2="181.34" y2="274.30" stroke="#000" stroke-width="1.3"/>
<line x1="176.04" y1="270.30" x2="186.64" y2="270.30" stroke="#000" stroke-width="1.3"/>
<line x1="176.04" y1="274.30" x2="186.64" y2="274.30" stroke="#000" stroke-width="1.3"/>
<circle cx="178.00" cy="263.30" r="2.4" fill="#a2032d"/>
<circle cx="184.50" cy="269.60" r="2.4" fill="#a2032d"/>
<circle cx="189.50" cy="272.30" r="2.4" fill="#a2032d"/>
<circle cx="172.80" cy="274.60" r="2.4" fill="#a2032d"/>
<circle cx="178.50" cy="277.40" r="2.4" fill="#a2032d"/>
<circle cx="183.80" cy="276.60" r="2.4" fill="#a2032d"/>
<line x1="203.30" y1="319.60" x2="225.50" y2="319.60" stroke="#000" stroke-width="1.4"/>
<line x1="214.62" y1="315.20" x2="214.62" y2="323.50" stroke="#000" stroke-width="1.3"/>
<line x1="209.32" y1="315.20" x2="219.92" y2="315.20" stroke="#000" stroke-width="1.3"/>
<line x1="209.32" y1="323.50" x2="219.92" y2="323.50" stroke="#000" stroke-width="1.3"/>
<circle cx="214.50" cy="309.40" r="2.4" fill="#a2032d"/>
<circle cx="214.50" cy="317.20" r="2.4" fill="#a2032d"/>
<circle cx="217.70" cy="323.30" r="2.4" fill="#a2032d"/>
<circle cx="211.00" cy="328.20" r="2.4" fill="#a2032d"/>
<polygon points="208.53,293.90 209.13,295.36 210.71,295.49 209.51,296.52 209.88,298.06 208.53,297.24 207.17,298.06 207.54,296.52 206.34,295.49 207.92,295.36" fill="#000"/>
<polygon points="212.57,293.90 213.18,295.36 214.76,295.49 213.56,296.52 213.93,298.06 212.57,297.24 211.22,298.06 211.59,296.52 210.39,295.49 211.97,295.36" fill="#000"/>
<polygon points="216.62,293.90 217.23,295.36 218.81,295.49 217.61,296.52 217.98,298.06 216.62,297.24 215.27,298.06 215.64,296.52 214.44,295.49 216.02,295.36" fill="#000"/>
<polygon points="220.67,293.90 221.28,295.36 222.86,295.49 221.66,296.52 222.03,298.06 220.67,297.24 219.32,298.06 219.69,296.52 218.49,295.49 220.07,295.36" fill="#000"/>
<text x="256.00" y="220.50" font-size="15.6" text-anchor="start" font-weight="bold" >D</text>
<line x1="322.75" y1="227.40" x2="322.75" y2="350.65" stroke="#000" stroke-width="1.3"/>
<line x1="322.10" y1="350.00" x2="500.80" y2="350.00" stroke="#000" stroke-width="1.3"/>
<line x1="318.80" y1="231.26" x2="322.75" y2="231.26" stroke="#000" stroke-width="1.3"/>
<polygon points="292.42,234.81 293.44,234.81 293.44,227.75 292.62,227.75 292.42,228.26 291.78,228.91 290.48,229.16 290.48,229.84 292.42,229.84" fill="#000"/>
<text x="0" y="0" font-size="10" stroke="#000" stroke-width="0.26" transform="translate(295.75 234.81) scale(1.13 1)">0</text>
<text x="0" y="0" font-size="10" stroke="#000" stroke-width="0.26" transform="translate(302.03 234.81) scale(1.13 1)">0</text>
<text x="0" y="0" font-size="10" stroke="#000" stroke-width="0.26" transform="translate(308.32 234.81) scale(1.13 1)">0</text>
<line x1="318.80" y1="270.84" x2="322.75" y2="270.84" stroke="#000" stroke-width="1.3"/>
<polygon points="298.71,274.39 299.73,274.39 299.73,267.33 298.90,267.33 298.71,267.84 298.06,268.49 296.77,268.74 296.77,269.42 298.71,269.42" fill="#000"/>
<text x="0" y="0" font-size="10" stroke="#000" stroke-width="0.26" transform="translate(302.03 274.39) scale(1.13 1)">0</text>
<text x="0" y="0" font-size="10" stroke="#000" stroke-width="0.26" transform="translate(308.32 274.39) scale(1.13 1)">0</text>
<line x1="318.80" y1="310.42" x2="322.75" y2="310.42" stroke="#000" stroke-width="1.3"/>
<polygon points="304.99,313.97 306.01,313.97 306.01,306.91 305.18,306.91 304.99,307.42 304.35,308.07 303.05,308.32 303.05,309.00 304.99,309.00" fill="#000"/>
<text x="0" y="0" font-size="10" stroke="#000" stroke-width="0.26" transform="translate(308.32 313.97) scale(1.13 1)">0</text>
<line x1="318.80" y1="350.00" x2="322.75" y2="350.00" stroke="#000" stroke-width="1.3"/>
<polygon points="311.28,353.55 312.29,353.55 312.29,346.49 311.47,346.49 311.28,347.00 310.63,347.65 309.33,347.90 309.33,348.58 311.28,348.58" fill="#000"/>
<line x1="341.50" y1="350.00" x2="341.50" y2="354.20" stroke="#000" stroke-width="1.3"/>
<text x="345.10" y="363.00" font-size="11" text-anchor="end" transform="rotate(-45 345.10 363.00)" stroke="#000" stroke-width="0.22" >CD34+</text>
<line x1="369.40" y1="350.00" x2="369.40" y2="354.20" stroke="#000" stroke-width="1.3"/>
<text x="373.00" y="363.00" font-size="11" text-anchor="end" transform="rotate(-45 373.00 363.00)" stroke="#000" stroke-width="0.22" >HSC</text>
<line x1="397.30" y1="350.00" x2="397.30" y2="354.20" stroke="#000" stroke-width="1.3"/>
<text x="400.90" y="363.00" font-size="11" text-anchor="end" transform="rotate(-45 400.90 363.00)" stroke="#000" stroke-width="0.22" >MPP</text>
<line x1="425.20" y1="350.00" x2="425.20" y2="354.20" stroke="#000" stroke-width="1.3"/>
<text x="428.80" y="363.00" font-size="11" text-anchor="end" transform="rotate(-45 428.80 363.00)" stroke="#000" stroke-width="0.22" >CMP</text>
<line x1="453.10" y1="350.00" x2="453.10" y2="354.20" stroke="#000" stroke-width="1.3"/>
<text x="456.70" y="363.00" font-size="11" text-anchor="end" transform="rotate(-45 456.70 363.00)" stroke="#000" stroke-width="0.22" >GMP</text>
<line x1="481.00" y1="350.00" x2="481.00" y2="354.20" stroke="#000" stroke-width="1.3"/>
<text x="484.60" y="363.00" font-size="11" text-anchor="end" transform="rotate(-45 484.60 363.00)" stroke="#000" stroke-width="0.22" >MEP</text>
<text x="281.10" y="288.90" font-size="13.2" text-anchor="middle" textLength="77" lengthAdjust="spacingAndGlyphs" transform="rotate(-90 281.10 288.90)" stroke="#000" stroke-width="0.42" >CD300f (MFI ratio)</text>
<line x1="332.10" y1="289.20" x2="350.60" y2="289.20" stroke="#000" stroke-width="1.4"/>
<line x1="341.50" y1="287.30" x2="341.50" y2="291.20" stroke="#000" stroke-width="1.3"/>
<line x1="337.10" y1="287.30" x2="345.90" y2="287.30" stroke="#000" stroke-width="1.3"/>
<line x1="337.10" y1="291.20" x2="345.90" y2="291.20" stroke="#000" stroke-width="1.3"/>
<circle cx="337.50" cy="286.70" r="2.1" fill="#a2032d"/>
<circle cx="345.20" cy="288.10" r="2.1" fill="#a2032d"/>
<circle cx="341.30" cy="292.50" r="2.1" fill="#a2032d"/>
<line x1="360.00" y1="280.20" x2="378.50" y2="280.20" stroke="#000" stroke-width="1.4"/>
<line x1="369.40" y1="279.50" x2="369.40" y2="281.00" stroke="#000" stroke-width="1.3"/>
<line x1="365.00" y1="279.50" x2="373.80" y2="279.50" stroke="#000" stroke-width="1.3"/>
<line x1="365.00" y1="281.00" x2="373.80" y2="281.00" stroke="#000" stroke-width="1.3"/>
<circle cx="365.40" cy="278.50" r="2.1" fill="#a2032d"/>
<circle cx="365.40" cy="282.90" r="2.1" fill="#a2032d"/>
<circle cx="373.10" cy="280.00" r="2.1" fill="#a2032d"/>
<line x1="388.00" y1="286.70" x2="406.70" y2="286.70" stroke="#000" stroke-width="1.4"/>
<line x1="397.30" y1="285.90" x2="397.30" y2="287.60" stroke="#000" stroke-width="1.3"/>
<line x1="392.90" y1="285.90" x2="401.70" y2="285.90" stroke="#000" stroke-width="1.3"/>
<line x1="392.90" y1="287.60" x2="401.70" y2="287.60" stroke="#000" stroke-width="1.3"/>
<circle cx="390.00" cy="288.70" r="2.1" fill="#a2032d"/>
<circle cx="397.10" cy="285.40" r="2.1" fill="#a2032d"/>
<circle cx="404.80" cy="285.80" r="2.1" fill="#a2032d"/>
<line x1="416.10" y1="283.80" x2="434.70" y2="283.80" stroke="#000" stroke-width="1.4"/>
<line x1="425.20" y1="279.70" x2="425.20" y2="289.20" stroke="#000" stroke-width="1.3"/>
<line x1="420.80" y1="279.70" x2="429.60" y2="279.70" stroke="#000" stroke-width="1.3"/>
<line x1="420.80" y1="289.20" x2="429.60" y2="289.20" stroke="#000" stroke-width="1.3"/>
<circle cx="421.20" cy="278.80" r="2.1" fill="#a2032d"/>
<circle cx="429.30" cy="280.80" r="2.1" fill="#a2032d"/>
<circle cx="425.00" cy="297.40" r="2.1" fill="#a2032d"/>
<line x1="444.20" y1="287.40" x2="462.70" y2="287.40" stroke="#000" stroke-width="1.4"/>
<line x1="453.10" y1="283.80" x2="453.10" y2="291.80" stroke="#000" stroke-width="1.3"/>
<line x1="448.70" y1="283.80" x2="457.50" y2="283.80" stroke="#000" stroke-width="1.3"/>
<line x1="448.70" y1="291.80" x2="457.50" y2="291.80" stroke="#000" stroke-width="1.3"/>
<circle cx="453.50" cy="281.80" r="2.1" fill="#a2032d"/>
<circle cx="453.50" cy="287.40" r="2.1" fill="#a2032d"/>
<circle cx="453.50" cy="295.70" r="2.1" fill="#a2032d"/>
<line x1="472.00" y1="290.40" x2="490.80" y2="290.40" stroke="#000" stroke-width="1.4"/>
<line x1="481.00" y1="287.80" x2="481.00" y2="293.10" stroke="#000" stroke-width="1.3"/>
<line x1="476.60" y1="287.80" x2="485.40" y2="287.80" stroke="#000" stroke-width="1.3"/>
<line x1="476.60" y1="293.10" x2="485.40" y2="293.10" stroke="#000" stroke-width="1.3"/>
<circle cx="481.30" cy="285.90" r="2.1" fill="#a2032d"/>
<circle cx="485.20" cy="292.30" r="2.1" fill="#a2032d"/>
<circle cx="477.30" cy="294.20" r="2.1" fill="#a2032d"/>
<text x="9.80" y="426.00" font-size="15.6" text-anchor="start" font-weight="bold" >E</text>
<line x1="65.40" y1="435.20" x2="65.40" y2="565.45" stroke="#000" stroke-width="1.3"/>
<line x1="64.75" y1="564.80" x2="491.40" y2="564.80" stroke="#000" stroke-width="1.3"/>
<line x1="61.20" y1="438.80" x2="65.40" y2="438.80" stroke="#000" stroke-width="1.3"/>
<text x="0" y="0" font-size="10" stroke="#000" stroke-width="0.26" transform="translate(44.03 442.95) scale(1.13 1)">8</text>
<text x="0" y="0" font-size="10" stroke="#000" stroke-width="0.26" transform="translate(50.32 442.95) scale(1.13 1)">0</text>
<line x1="61.20" y1="470.30" x2="65.40" y2="470.30" stroke="#000" stroke-width="1.3"/>
<text x="0" y="0" font-size="10" stroke="#000" stroke-width="0.26" transform="translate(44.03 474.45) scale(1.13 1)">6</text>
<text x="0" y="0" font-size="10" stroke="#000" stroke-width="0.26" transform="translate(50.32 474.45) scale(1.13 1)">0</text>
<line x1="61.20" y1="501.80" x2="65.40" y2="501.80" stroke="#000" stroke-width="1.3"/>
<text x="0" y="0" font-size="10" stroke="#000" stroke-width="0.26" transform="translate(44.03 505.95) scale(1.13 1)">4</text>
<text x="0" y="0" font-size="10" stroke="#000" stroke-width="0.26" transform="translate(50.32 505.95) scale(1.13 1)">0</text>
<line x1="61.20" y1="533.30" x2="65.40" y2="533.30" stroke="#000" stroke-width="1.3"/>
<text x="0" y="0" font-size="10" stroke="#000" stroke-width="0.26" transform="translate(44.03 537.45) scale(1.13 1)">2</text>
<text x="0" y="0" font-size="10" stroke="#000" stroke-width="0.26" transform="translate(50.32 537.45) scale(1.13 1)">0</text>
<line x1="61.20" y1="564.80" x2="65.40" y2="564.80" stroke="#000" stroke-width="1.3"/>
<text x="0" y="0" font-size="10" stroke="#000" stroke-width="0.26" transform="translate(50.32 568.95) scale(1.13 1)">0</text>
<text x="35.90" y="500.00" font-size="13" text-anchor="middle" textLength="18.5" lengthAdjust="spacingAndGlyphs" transform="rotate(-90 35.90 500.00)" stroke="#000" stroke-width="0.25" >TPM</text>
<rect x="68.35" y="563.89" width="8.3" height="0.91" fill="#2c4b86" stroke="#1c3774" stroke-width="0.7"/>
<line x1="72.20" y1="563.07" x2="72.20" y2="563.54" stroke="#000" stroke-width="1.3"/>
<line x1="69.60" y1="563.07" x2="74.80" y2="563.07" stroke="#000" stroke-width="1.3"/>
<line x1="72.20" y1="564.80" x2="72.20" y2="568.80" stroke="#000" stroke-width="1.0"/>
<text x="0" y="0" font-size="10.6" text-anchor="end" stroke="#000" stroke-width="0.22" transform="translate(76.20 577.80) scale(1.0 1) rotate(-44)">Adipose Tissue</text>
<rect x="82.35" y="564.68" width="8.3" height="0.30" fill="#2c4b86" stroke="#1c3774" stroke-width="0.7"/>
<line x1="86.32" y1="564.01" x2="86.32" y2="564.33" stroke="#000" stroke-width="1.3"/>
<line x1="83.72" y1="564.01" x2="88.92" y2="564.01" stroke="#000" stroke-width="1.3"/>
<line x1="86.32" y1="564.80" x2="86.32" y2="568.80" stroke="#000" stroke-width="1.0"/>
<text x="0" y="0" font-size="10.6" text-anchor="end" stroke="#000" stroke-width="0.22" transform="translate(90.32 577.80) scale(1.0 1) rotate(-44)">Adrenal Gland</text>
<rect x="96.35" y="564.20" width="8.3" height="0.59" fill="#2c4b86" stroke="#1c3774" stroke-width="0.7"/>
<line x1="100.44" y1="563.38" x2="100.44" y2="563.85" stroke="#000" stroke-width="1.3"/>
<line x1="97.84" y1="563.38" x2="103.04" y2="563.38" stroke="#000" stroke-width="1.3"/>
<line x1="100.44" y1="564.80" x2="100.44" y2="568.80" stroke="#000" stroke-width="1.0"/>
<text x="0" y="0" font-size="10.6" text-anchor="end" stroke="#000" stroke-width="0.22" transform="translate(104.44 577.80) scale(1.0 1) rotate(-44)">Bladder</text>
<rect x="110.35" y="449.70" width="8.3" height="115.10" fill="#a2032d" stroke="#86001f" stroke-width="0.7"/>
<line x1="114.56" y1="445.73" x2="114.56" y2="449.35" stroke="#a2032d" stroke-width="1.3"/>
<line x1="111.96" y1="445.73" x2="117.16" y2="445.73" stroke="#a2032d" stroke-width="1.3"/>
<line x1="114.56" y1="564.80" x2="114.56" y2="568.80" stroke="#000" stroke-width="1.0"/>
<text x="0" y="0" font-size="10.6" text-anchor="end" stroke="#000" stroke-width="0.22" transform="translate(118.56 577.80) scale(1.0 1) rotate(-44)">Blood</text>
<polygon points="108.41,437.28 109.03,438.77 110.64,438.90 109.42,439.96 109.79,441.53 108.41,440.69 107.03,441.53 107.40,439.96 106.18,438.90 107.79,438.77" fill="#000"/>
<polygon points="112.51,437.28 113.13,438.77 114.74,438.90 113.52,439.96 113.89,441.53 112.51,440.69 111.13,441.53 111.50,439.96 110.28,438.90 111.89,438.77" fill="#000"/>
<polygon points="116.61,437.28 117.23,438.77 118.84,438.90 117.62,439.96 117.99,441.53 116.61,440.69 115.23,441.53 115.60,439.96 114.38,438.90 115.99,438.77" fill="#000"/>
<polygon points="120.71,437.28 121.33,438.77 122.94,438.90 121.72,439.96 122.09,441.53 120.71,440.69 119.33,441.53 119.70,439.96 118.48,438.90 120.09,438.77" fill="#000"/>
<rect x="124.35" y="564.20" width="8.3" height="0.59" fill="#2c4b86" stroke="#1c3774" stroke-width="0.7"/>
<line x1="128.68" y1="563.38" x2="128.68" y2="563.85" stroke="#000" stroke-width="1.3"/>
<line x1="126.08" y1="563.38" x2="131.28" y2="563.38" stroke="#000" stroke-width="1.3"/>
<line x1="128.68" y1="564.80" x2="128.68" y2="568.80" stroke="#000" stroke-width="1.0"/>
<text x="0" y="0" font-size="10.6" text-anchor="end" stroke="#000" stroke-width="0.22" transform="translate(132.68 577.80) scale(1.0 1) rotate(-44)">Blood Vessel</text>
<rect x="138.35" y="564.83" width="8.3" height="0.30" fill="#2c4b86" stroke="#1c3774" stroke-width="0.7"/>
<line x1="142.80" y1="564.33" x2="142.80" y2="564.48" stroke="#000" stroke-width="1.3"/>
<line x1="140.20" y1="564.33" x2="145.40" y2="564.33" stroke="#000" stroke-width="1.3"/>
<line x1="142.80" y1="564.80" x2="142.80" y2="568.80" stroke="#000" stroke-width="1.0"/>
<text x="0" y="0" font-size="10.6" text-anchor="end" stroke="#000" stroke-width="0.22" transform="translate(146.80 577.80) scale(1.0 1) rotate(-44)">Brain</text>
<rect x="152.35" y="564.68" width="8.3" height="0.30" fill="#2c4b86" stroke="#1c3774" stroke-width="0.7"/>
<line x1="156.92" y1="564.01" x2="156.92" y2="564.33" stroke="#000" stroke-width="1.3"/>
<line x1="154.32" y1="564.01" x2="159.52" y2="564.01" stroke="#000" stroke-width="1.3"/>
<line x1="156.92" y1="564.80" x2="156.92" y2="568.80" stroke="#000" stroke-width="1.0"/>
<text x="0" y="0" font-size="10.6" text-anchor="end" stroke="#000" stroke-width="0.22" transform="translate(160.92 577.80) scale(1.0 1) rotate(-44)">Breast</text>
<rect x="167.35" y="564.68" width="8.3" height="0.30" fill="#2c4b86" stroke="#1c3774" stroke-width="0.7"/>
<line x1="171.04" y1="564.01" x2="171.04" y2="564.33" stroke="#000" stroke-width="1.3"/>
<line x1="168.44" y1="564.01" x2="173.64" y2="564.01" stroke="#000" stroke-width="1.3"/>
<line x1="171.04" y1="564.80" x2="171.04" y2="568.80" stroke="#000" stroke-width="1.0"/>
<text x="0" y="0" font-size="10.6" text-anchor="end" stroke="#000" stroke-width="0.22" transform="translate(175.04 577.80) scale(1.0 1) rotate(-44)">Cervix</text>
<rect x="181.35" y="564.20" width="8.3" height="0.59" fill="#2c4b86" stroke="#1c3774" stroke-width="0.7"/>
<line x1="185.16" y1="563.38" x2="185.16" y2="563.85" stroke="#000" stroke-width="1.3"/>
<line x1="182.56" y1="563.38" x2="187.76" y2="563.38" stroke="#000" stroke-width="1.3"/>
<line x1="185.16" y1="564.80" x2="185.16" y2="568.80" stroke="#000" stroke-width="1.0"/>
<text x="0" y="0" font-size="10.6" text-anchor="end" stroke="#000" stroke-width="0.22" transform="translate(189.16 577.80) scale(1.0 1) rotate(-44)">Colon</text>
<rect x="195.35" y="564.83" width="8.3" height="0.30" fill="#2c4b86" stroke="#1c3774" stroke-width="0.7"/>
<line x1="199.28" y1="564.33" x2="199.28" y2="564.48" stroke="#000" stroke-width="1.3"/>
<line x1="196.68" y1="564.33" x2="201.88" y2="564.33" stroke="#000" stroke-width="1.3"/>
<line x1="199.28" y1="564.80" x2="199.28" y2="568.80" stroke="#000" stroke-width="1.0"/>
<text x="0" y="0" font-size="10.6" text-anchor="end" stroke="#000" stroke-width="0.22" transform="translate(203.28 577.80) scale(1.0 1) rotate(-44)">Esophagus</text>
<rect x="209.35" y="562.79" width="8.3" height="2.01" fill="#2c4b86" stroke="#1c3774" stroke-width="0.7"/>
<line x1="213.40" y1="561.18" x2="213.40" y2="562.44" stroke="#000" stroke-width="1.3"/>
<line x1="210.80" y1="561.18" x2="216.00" y2="561.18" stroke="#000" stroke-width="1.3"/>
<line x1="213.40" y1="564.80" x2="213.40" y2="568.80" stroke="#000" stroke-width="1.0"/>
<text x="0" y="0" font-size="10.6" text-anchor="end" stroke="#000" stroke-width="0.22" transform="translate(217.40 577.80) scale(1.0 1) rotate(-44)">Fallopian Tube</text>
<rect x="223.35" y="565.07" width="8.3" height="0.30" fill="#2c4b86" stroke="#1c3774" stroke-width="0.7"/>
<line x1="227.52" y1="564.56" x2="227.52" y2="564.72" stroke="#000" stroke-width="1.3"/>
<line x1="224.92" y1="564.56" x2="230.12" y2="564.56" stroke="#000" stroke-width="1.3"/>
<line x1="227.52" y1="564.80" x2="227.52" y2="568.80" stroke="#000" stroke-width="1.0"/>
<text x="0" y="0" font-size="10.6" text-anchor="end" stroke="#000" stroke-width="0.22" transform="translate(231.52 577.80) scale(1.0 1) rotate(-44)">Heart</text>
<rect x="237.35" y="564.52" width="8.3" height="0.30" fill="#2c4b86" stroke="#1c3774" stroke-width="0.7"/>
<line x1="241.64" y1="563.85" x2="241.64" y2="564.17" stroke="#000" stroke-width="1.3"/>
<line x1="239.04" y1="563.85" x2="244.24" y2="563.85" stroke="#000" stroke-width="1.3"/>
<line x1="241.64" y1="564.80" x2="241.64" y2="568.80" stroke="#000" stroke-width="1.0"/>
<text x="0" y="0" font-size="10.6" text-anchor="end" stroke="#000" stroke-width="0.22" transform="translate(245.64 577.80) scale(1.0 1) rotate(-44)">Kidney</text>
<rect x="251.35" y="564.68" width="8.3" height="0.30" fill="#2c4b86" stroke="#1c3774" stroke-width="0.7"/>
<line x1="255.76" y1="564.17" x2="255.76" y2="564.33" stroke="#000" stroke-width="1.3"/>
<line x1="253.16" y1="564.17" x2="258.36" y2="564.17" stroke="#000" stroke-width="1.3"/>
<line x1="255.76" y1="564.80" x2="255.76" y2="568.80" stroke="#000" stroke-width="1.0"/>
<text x="0" y="0" font-size="10.6" text-anchor="end" stroke="#000" stroke-width="0.22" transform="translate(259.76 577.80) scale(1.0 1) rotate(-44)">Liver</text>
<rect x="265.35" y="528.14" width="8.3" height="36.66" fill="#2c4b86" stroke="#1c3774" stroke-width="0.7"/>
<line x1="269.88" y1="527.00" x2="269.88" y2="527.79" stroke="#000" stroke-width="1.3"/>
<line x1="267.28" y1="527.00" x2="272.48" y2="527.00" stroke="#000" stroke-width="1.3"/>
<line x1="269.88" y1="564.80" x2="269.88" y2="568.80" stroke="#000" stroke-width="1.0"/>
<text x="0" y="0" font-size="10.6" text-anchor="end" stroke="#000" stroke-width="0.22" transform="translate(273.88 577.80) scale(1.0 1) rotate(-44)">Lung</text>
<polygon points="263.73,518.55 264.35,520.04 265.96,520.17 264.74,521.23 265.11,522.80 263.73,521.96 262.35,522.80 262.72,521.23 261.50,520.17 263.11,520.04" fill="#000"/>
<polygon points="267.83,518.55 268.45,520.04 270.06,520.17 268.84,521.23 269.21,522.80 267.83,521.96 266.45,522.80 266.82,521.23 265.60,520.17 267.21,520.04" fill="#000"/>
<polygon points="271.93,518.55 272.55,520.04 274.16,520.17 272.94,521.23 273.31,522.80 271.93,521.96 270.55,522.80 270.92,521.23 269.70,520.17 271.31,520.04" fill="#000"/>
<polygon points="276.03,518.55 276.65,520.04 278.26,520.17 277.04,521.23 277.41,522.80 276.03,521.96 274.65,522.80 275.02,521.23 273.80,520.17 275.41,520.04" fill="#000"/>
<rect x="280.35" y="565.02" width="8.3" height="0.30" fill="#2c4b86" stroke="#1c3774" stroke-width="0.7"/>
<line x1="284.00" y1="564.20" x2="284.00" y2="564.67" stroke="#000" stroke-width="1.3"/>
<line x1="281.40" y1="564.20" x2="286.60" y2="564.20" stroke="#000" stroke-width="1.3"/>
<line x1="284.00" y1="564.80" x2="284.00" y2="568.80" stroke="#000" stroke-width="1.0"/>
<text x="0" y="0" font-size="10.6" text-anchor="end" stroke="#000" stroke-width="0.22" transform="translate(288.00 577.80) scale(1.0 1) rotate(-44)">Muscle</text>
<rect x="294.35" y="564.05" width="8.3" height="0.75" fill="#2c4b86" stroke="#1c3774" stroke-width="0.7"/>
<line x1="298.12" y1="563.54" x2="298.12" y2="563.70" stroke="#000" stroke-width="1.3"/>
<line x1="295.52" y1="563.54" x2="300.72" y2="563.54" stroke="#000" stroke-width="1.3"/>
<line x1="298.12" y1="564.80" x2="298.12" y2="568.80" stroke="#000" stroke-width="1.0"/>
<text x="0" y="0" font-size="10.6" text-anchor="end" stroke="#000" stroke-width="0.22" transform="translate(302.12 577.80) scale(1.0 1) rotate(-44)">Nerve</text>
<rect x="308.35" y="564.91" width="8.3" height="0.30" fill="#2c4b86" stroke="#1c3774" stroke-width="0.7"/>
<line x1="312.24" y1="564.41" x2="312.24" y2="564.56" stroke="#000" stroke-width="1.3"/>
<line x1="309.64" y1="564.41" x2="314.84" y2="564.41" stroke="#000" stroke-width="1.3"/>
<line x1="312.24" y1="564.80" x2="312.24" y2="568.80" stroke="#000" stroke-width="1.0"/>
<text x="0" y="0" font-size="10.6" text-anchor="end" stroke="#000" stroke-width="0.22" transform="translate(316.24 577.80) scale(1.0 1) rotate(-44)">Ovary</text>
<rect x="322.35" y="565.07" width="8.3" height="0.30" fill="#2c4b86" stroke="#1c3774" stroke-width="0.7"/>
<line x1="326.36" y1="564.56" x2="326.36" y2="564.72" stroke="#000" stroke-width="1.3"/>
<line x1="323.76" y1="564.56" x2="328.96" y2="564.56" stroke="#000" stroke-width="1.3"/>
<line x1="326.36" y1="564.80" x2="326.36" y2="568.80" stroke="#000" stroke-width="1.0"/>
<text x="0" y="0" font-size="10.6" text-anchor="end" stroke="#000" stroke-width="0.22" transform="translate(330.36 577.80) scale(1.0 1) rotate(-44)">Pancreas</text>
<rect x="336.35" y="564.68" width="8.3" height="0.30" fill="#2c4b86" stroke="#1c3774" stroke-width="0.7"/>
<line x1="340.48" y1="564.17" x2="340.48" y2="564.33" stroke="#000" stroke-width="1.3"/>
<line x1="337.88" y1="564.17" x2="343.08" y2="564.17" stroke="#000" stroke-width="1.3"/>
<line x1="340.48" y1="564.80" x2="340.48" y2="568.80" stroke="#000" stroke-width="1.0"/>
<text x="0" y="0" font-size="10.6" text-anchor="end" stroke="#000" stroke-width="0.22" transform="translate(344.48 577.80) scale(1.0 1) rotate(-44)">Pituitary</text>
<rect x="350.35" y="564.20" width="8.3" height="0.59" fill="#2c4b86" stroke="#1c3774" stroke-width="0.7"/>
<line x1="354.60" y1="563.38" x2="354.60" y2="563.85" stroke="#000" stroke-width="1.3"/>
<line x1="352.00" y1="563.38" x2="357.20" y2="563.38" stroke="#000" stroke-width="1.3"/>
<line x1="354.60" y1="564.80" x2="354.60" y2="568.80" stroke="#000" stroke-width="1.0"/>
<text x="0" y="0" font-size="10.6" text-anchor="end" stroke="#000" stroke-width="0.22" transform="translate(358.60 577.80) scale(1.0 1) rotate(-44)">Prostate</text>
<rect x="364.35" y="564.05" width="8.3" height="0.75" fill="#2c4b86" stroke="#1c3774" stroke-width="0.7"/>
<line x1="368.72" y1="563.22" x2="368.72" y2="563.70" stroke="#000" stroke-width="1.3"/>
<line x1="366.12" y1="563.22" x2="371.32" y2="563.22" stroke="#000" stroke-width="1.3"/>
<line x1="368.72" y1="564.80" x2="368.72" y2="568.80" stroke="#000" stroke-width="1.0"/>
<text x="0" y="0" font-size="10.6" text-anchor="end" stroke="#000" stroke-width="0.22" transform="translate(372.72 577.80) scale(1.0 1) rotate(-44)">Salivary Gland</text>
<rect x="378.35" y="565.07" width="8.3" height="0.30" fill="#2c4b86" stroke="#1c3774" stroke-width="0.7"/>
<line x1="382.84" y1="564.56" x2="382.84" y2="564.72" stroke="#000" stroke-width="1.3"/>
<line x1="380.24" y1="564.56" x2="385.44" y2="564.56" stroke="#000" stroke-width="1.3"/>
<line x1="382.84" y1="564.80" x2="382.84" y2="568.80" stroke="#000" stroke-width="1.0"/>
<text x="0" y="0" font-size="10.6" text-anchor="end" stroke="#000" stroke-width="0.22" transform="translate(386.84 577.80) scale(1.0 1) rotate(-44)">Skin</text>
<rect x="392.35" y="558.38" width="8.3" height="6.42" fill="#2c4b86" stroke="#1c3774" stroke-width="0.7"/>
<line x1="396.96" y1="557.24" x2="396.96" y2="558.03" stroke="#000" stroke-width="1.3"/>
<line x1="394.36" y1="557.24" x2="399.56" y2="557.24" stroke="#000" stroke-width="1.3"/>
<line x1="396.96" y1="564.80" x2="396.96" y2="568.80" stroke="#000" stroke-width="1.0"/>
<text x="0" y="0" font-size="10.6" text-anchor="end" stroke="#000" stroke-width="0.22" transform="translate(400.96 577.80) scale(1.0 1) rotate(-44)">Small Intestine</text>
<rect x="407.35" y="490.02" width="8.3" height="74.78" fill="#a2032d" stroke="#86001f" stroke-width="0.7"/>
<line x1="411.08" y1="487.62" x2="411.08" y2="489.67" stroke="#a2032d" stroke-width="1.3"/>
<line x1="408.48" y1="487.62" x2="413.68" y2="487.62" stroke="#a2032d" stroke-width="1.3"/>
<line x1="411.08" y1="564.80" x2="411.08" y2="568.80" stroke="#000" stroke-width="1.0"/>
<text x="0" y="0" font-size="10.6" text-anchor="end" stroke="#000" stroke-width="0.22" transform="translate(415.08 577.80) scale(1.0 1) rotate(-44)">Spleen</text>
<polygon points="404.93,479.17 405.55,480.67 407.16,480.80 405.94,481.85 406.31,483.43 404.93,482.58 403.55,483.43 403.92,481.85 402.70,480.80 404.31,480.67" fill="#000"/>
<polygon points="409.03,479.17 409.65,480.67 411.26,480.80 410.04,481.85 410.41,483.43 409.03,482.58 407.65,483.43 408.02,481.85 406.80,480.80 408.41,480.67" fill="#000"/>
<polygon points="413.13,479.17 413.75,480.67 415.36,480.80 414.14,481.85 414.51,483.43 413.13,482.58 411.75,483.43 412.12,481.85 410.90,480.80 412.51,480.67" fill="#000"/>
<polygon points="417.23,479.17 417.85,480.67 419.46,480.80 418.24,481.85 418.61,483.43 417.23,482.58 415.85,483.43 416.22,481.85 415.00,480.80 416.61,480.67" fill="#000"/>
<rect x="421.35" y="564.68" width="8.3" height="0.30" fill="#2c4b86" stroke="#1c3774" stroke-width="0.7"/>
<line x1="425.20" y1="564.01" x2="425.20" y2="564.33" stroke="#000" stroke-width="1.3"/>
<line x1="422.60" y1="564.01" x2="427.80" y2="564.01" stroke="#000" stroke-width="1.3"/>
<line x1="425.20" y1="564.80" x2="425.20" y2="568.80" stroke="#000" stroke-width="1.0"/>
<text x="0" y="0" font-size="10.6" text-anchor="end" stroke="#000" stroke-width="0.22" transform="translate(429.20 577.80) scale(1.0 1) rotate(-44)">Stomach</text>
<rect x="435.35" y="564.83" width="8.3" height="0.30" fill="#2c4b86" stroke="#1c3774" stroke-width="0.7"/>
<line x1="439.32" y1="564.33" x2="439.32" y2="564.48" stroke="#000" stroke-width="1.3"/>
<line x1="436.72" y1="564.33" x2="441.92" y2="564.33" stroke="#000" stroke-width="1.3"/>
<line x1="439.32" y1="564.80" x2="439.32" y2="568.80" stroke="#000" stroke-width="1.0"/>
<text x="0" y="0" font-size="10.6" text-anchor="end" stroke="#000" stroke-width="0.22" transform="translate(443.32 577.80) scale(1.0 1) rotate(-44)">Testis</text>
<rect x="449.35" y="564.68" width="8.3" height="0.30" fill="#2c4b86" stroke="#1c3774" stroke-width="0.7"/>
<line x1="453.44" y1="564.01" x2="453.44" y2="564.33" stroke="#000" stroke-width="1.3"/>
<line x1="450.84" y1="564.01" x2="456.04" y2="564.01" stroke="#000" stroke-width="1.3"/>
<line x1="453.44" y1="564.80" x2="453.44" y2="568.80" stroke="#000" stroke-width="1.0"/>
<text x="0" y="0" font-size="10.6" text-anchor="end" stroke="#000" stroke-width="0.22" transform="translate(457.44 577.80) scale(1.0 1) rotate(-44)">Thyroid</text>
<rect x="463.35" y="564.68" width="8.3" height="0.30" fill="#2c4b86" stroke="#1c3774" stroke-width="0.7"/>
<line x1="467.56" y1="564.01" x2="467.56" y2="564.33" stroke="#000" stroke-width="1.3"/>
<line x1="464.96" y1="564.01" x2="470.16" y2="564.01" stroke="#000" stroke-width="1.3"/>
<line x1="467.56" y1="564.80" x2="467.56" y2="568.80" stroke="#000" stroke-width="1.0"/>
<text x="0" y="0" font-size="10.6" text-anchor="end" stroke="#000" stroke-width="0.22" transform="translate(471.56 577.80) scale(1.0 1) rotate(-44)">Uterus</text>
<rect x="477.35" y="564.36" width="8.3" height="0.44" fill="#2c4b86" stroke="#1c3774" stroke-width="0.7"/>
<line x1="481.68" y1="563.54" x2="481.68" y2="564.01" stroke="#000" stroke-width="1.3"/>
<line x1="479.08" y1="563.54" x2="484.28" y2="563.54" stroke="#000" stroke-width="1.3"/>
<line x1="481.68" y1="564.80" x2="481.68" y2="568.80" stroke="#000" stroke-width="1.0"/>
<text x="0" y="0" font-size="10.6" text-anchor="end" stroke="#000" stroke-width="0.22" transform="translate(485.68 577.80) scale(1.0 1) rotate(-44)">Vagina</text>
<text x="9.80" y="665.00" font-size="15.6" text-anchor="start" font-weight="bold" >F</text>
<line x1="65.40" y1="673.00" x2="65.40" y2="803.45" stroke="#000" stroke-width="1.3"/>
<line x1="64.75" y1="802.80" x2="491.40" y2="802.80" stroke="#000" stroke-width="1.3"/>
<line x1="61.20" y1="676.80" x2="65.40" y2="676.80" stroke="#000" stroke-width="1.3"/>
<text x="0" y="0" font-size="10" stroke="#000" stroke-width="0.26" transform="translate(40.43 681.90) scale(1.13 1)">8</text>
<text x="0" y="0" font-size="10" stroke="#000" stroke-width="0.26" transform="translate(46.72 681.90) scale(1.13 1)">0</text>
<line x1="61.20" y1="708.30" x2="65.40" y2="708.30" stroke="#000" stroke-width="1.3"/>
<text x="0" y="0" font-size="10" stroke="#000" stroke-width="0.26" transform="translate(40.43 713.40) scale(1.13 1)">6</text>
<text x="0" y="0" font-size="10" stroke="#000" stroke-width="0.26" transform="translate(46.72 713.40) scale(1.13 1)">0</text>
<line x1="61.20" y1="739.80" x2="65.40" y2="739.80" stroke="#000" stroke-width="1.3"/>
<text x="0" y="0" font-size="10" stroke="#000" stroke-width="0.26" transform="translate(40.43 744.90) scale(1.13 1)">4</text>
<text x="0" y="0" font-size="10" stroke="#000" stroke-width="0.26" transform="translate(46.72 744.90) scale(1.13 1)">0</text>
<line x1="61.20" y1="771.30" x2="65.40" y2="771.30" stroke="#000" stroke-width="1.3"/>
<text x="0" y="0" font-size="10" stroke="#000" stroke-width="0.26" transform="translate(40.43 776.40) scale(1.13 1)">2</text>
<text x="0" y="0" font-size="10" stroke="#000" stroke-width="0.26" transform="translate(46.72 776.40) scale(1.13 1)">0</text>
<line x1="61.20" y1="802.80" x2="65.40" y2="802.80" stroke="#000" stroke-width="1.3"/>
<text x="0" y="0" font-size="10" stroke="#000" stroke-width="0.26" transform="translate(46.72 807.90) scale(1.13 1)">0</text>
<text x="24.00" y="737.90" font-size="13" text-anchor="middle" textLength="18.5" lengthAdjust="spacingAndGlyphs" transform="rotate(-90 24.00 737.90)" stroke="#000" stroke-width="0.25" >TPM</text>
<rect x="68.35" y="791.34" width="8.3" height="11.46" fill="#2c4b86" stroke="#1c3774" stroke-width="0.7"/>
<line x1="72.10" y1="790.36" x2="72.10" y2="790.99" stroke="#000" stroke-width="1.3"/>
<line x1="69.50" y1="790.36" x2="74.70" y2="790.36" stroke="#000" stroke-width="1.3"/>
<line x1="72.10" y1="802.80" x2="72.10" y2="806.80" stroke="#000" stroke-width="1.0"/>
<text x="0" y="0" font-size="10.6" text-anchor="end" stroke="#000" stroke-width="0.22" transform="translate(76.10 818.20) scale(1.0 1) rotate(-44)">Adipose Tissue</text>
<rect x="82.35" y="797.16" width="8.3" height="5.63" fill="#2c4b86" stroke="#1c3774" stroke-width="0.7"/>
<line x1="86.24" y1="796.34" x2="86.24" y2="796.81" stroke="#000" stroke-width="1.3"/>
<line x1="83.64" y1="796.34" x2="88.84" y2="796.34" stroke="#000" stroke-width="1.3"/>
<line x1="86.24" y1="802.80" x2="86.24" y2="806.80" stroke="#000" stroke-width="1.0"/>
<text x="0" y="0" font-size="10.6" text-anchor="end" stroke="#000" stroke-width="0.22" transform="translate(90.24 818.20) scale(1.0 1) rotate(-44)">Adrenal Gland</text>
<rect x="96.35" y="796.85" width="8.3" height="5.95" fill="#2c4b86" stroke="#1c3774" stroke-width="0.7"/>
<line x1="100.39" y1="795.87" x2="100.39" y2="796.50" stroke="#000" stroke-width="1.3"/>
<line x1="97.79" y1="795.87" x2="102.99" y2="795.87" stroke="#000" stroke-width="1.3"/>
<line x1="100.39" y1="802.80" x2="100.39" y2="806.80" stroke="#000" stroke-width="1.0"/>
<text x="0" y="0" font-size="10.6" text-anchor="end" stroke="#000" stroke-width="0.22" transform="translate(104.39 818.20) scale(1.0 1) rotate(-44)">Bladder</text>
<rect x="110.35" y="763.46" width="8.3" height="39.34" fill="#a2032d" stroke="#86001f" stroke-width="0.7"/>
<line x1="114.53" y1="761.22" x2="114.53" y2="763.11" stroke="#a2032d" stroke-width="1.3"/>
<line x1="111.94" y1="761.22" x2="117.13" y2="761.22" stroke="#a2032d" stroke-width="1.3"/>
<line x1="114.53" y1="802.80" x2="114.53" y2="806.80" stroke="#000" stroke-width="1.0"/>
<text x="0" y="0" font-size="10.6" text-anchor="end" stroke="#000" stroke-width="0.22" transform="translate(118.53 818.20) scale(1.0 1) rotate(-44)">Blood</text>
<polygon points="108.38,752.77 109.01,754.26 110.62,754.39 109.39,755.45 109.77,757.02 108.38,756.18 107.00,757.02 107.38,755.45 106.15,754.39 107.76,754.26" fill="#000"/>
<polygon points="112.48,752.77 113.11,754.26 114.72,754.39 113.49,755.45 113.87,757.02 112.48,756.18 111.10,757.02 111.48,755.45 110.25,754.39 111.86,754.26" fill="#000"/>
<polygon points="116.58,752.77 117.21,754.26 118.82,754.39 117.59,755.45 117.97,757.02 116.58,756.18 115.20,757.02 115.58,755.45 114.35,754.39 115.96,754.26" fill="#000"/>
<polygon points="120.69,752.77 121.31,754.26 122.92,754.39 121.69,755.45 122.07,757.02 120.69,756.18 119.30,757.02 119.68,755.45 118.45,754.39 120.06,754.26" fill="#000"/>
<rect x="124.35" y="797.01" width="8.3" height="5.79" fill="#2c4b86" stroke="#1c3774" stroke-width="0.7"/>
<line x1="128.68" y1="796.18" x2="128.68" y2="796.66" stroke="#000" stroke-width="1.3"/>
<line x1="126.08" y1="796.18" x2="131.28" y2="796.18" stroke="#000" stroke-width="1.3"/>
<line x1="128.68" y1="802.80" x2="128.68" y2="806.80" stroke="#000" stroke-width="1.0"/>
<text x="0" y="0" font-size="10.6" text-anchor="end" stroke="#000" stroke-width="0.22" transform="translate(132.68 818.20) scale(1.0 1) rotate(-44)">Blood Vessel</text>
<rect x="138.35" y="801.73" width="8.3" height="1.07" fill="#2c4b86" stroke="#1c3774" stroke-width="0.7"/>
<line x1="142.82" y1="801.07" x2="142.82" y2="801.38" stroke="#000" stroke-width="1.3"/>
<line x1="140.22" y1="801.07" x2="145.42" y2="801.07" stroke="#000" stroke-width="1.3"/>
<line x1="142.82" y1="802.80" x2="142.82" y2="806.80" stroke="#000" stroke-width="1.0"/>
<text x="0" y="0" font-size="10.6" text-anchor="end" stroke="#000" stroke-width="0.22" transform="translate(146.82 818.20) scale(1.0 1) rotate(-44)">Brain</text>
<rect x="152.35" y="797.64" width="8.3" height="5.16" fill="#2c4b86" stroke="#1c3774" stroke-width="0.7"/>
<line x1="156.97" y1="796.81" x2="156.97" y2="797.29" stroke="#000" stroke-width="1.3"/>
<line x1="154.37" y1="796.81" x2="159.57" y2="796.81" stroke="#000" stroke-width="1.3"/>
<line x1="156.97" y1="802.80" x2="156.97" y2="806.80" stroke="#000" stroke-width="1.0"/>
<text x="0" y="0" font-size="10.6" text-anchor="end" stroke="#000" stroke-width="0.22" transform="translate(160.97 818.20) scale(1.0 1) rotate(-44)">Breast</text>
<rect x="167.35" y="799.37" width="8.3" height="3.43" fill="#2c4b86" stroke="#1c3774" stroke-width="0.7"/>
<line x1="171.12" y1="798.55" x2="171.12" y2="799.02" stroke="#000" stroke-width="1.3"/>
<line x1="168.52" y1="798.55" x2="173.72" y2="798.55" stroke="#000" stroke-width="1.3"/>
<line x1="171.12" y1="802.80" x2="171.12" y2="806.80" stroke="#000" stroke-width="1.0"/>
<text x="0" y="0" font-size="10.6" text-anchor="end" stroke="#000" stroke-width="0.22" transform="translate(175.12 818.20) scale(1.0 1) rotate(-44)">Cervix</text>
<rect x="181.35" y="798.42" width="8.3" height="4.38" fill="#2c4b86" stroke="#1c3774" stroke-width="0.7"/>
<line x1="185.26" y1="797.60" x2="185.26" y2="798.07" stroke="#000" stroke-width="1.3"/>
<line x1="182.66" y1="797.60" x2="187.86" y2="797.60" stroke="#000" stroke-width="1.3"/>
<line x1="185.26" y1="802.80" x2="185.26" y2="806.80" stroke="#000" stroke-width="1.0"/>
<text x="0" y="0" font-size="10.6" text-anchor="end" stroke="#000" stroke-width="0.22" transform="translate(189.26 818.20) scale(1.0 1) rotate(-44)">Colon</text>
<rect x="195.35" y="799.37" width="8.3" height="3.43" fill="#2c4b86" stroke="#1c3774" stroke-width="0.7"/>
<line x1="199.40" y1="798.55" x2="199.40" y2="799.02" stroke="#000" stroke-width="1.3"/>
<line x1="196.80" y1="798.55" x2="202.00" y2="798.55" stroke="#000" stroke-width="1.3"/>
<line x1="199.40" y1="802.80" x2="199.40" y2="806.80" stroke="#000" stroke-width="1.0"/>
<text x="0" y="0" font-size="10.6" text-anchor="end" stroke="#000" stroke-width="0.22" transform="translate(203.40 818.20) scale(1.0 1) rotate(-44)">Esophagus</text>
<rect x="209.35" y="795.59" width="8.3" height="7.21" fill="#2c4b86" stroke="#1c3774" stroke-width="0.7"/>
<line x1="213.55" y1="792.25" x2="213.55" y2="795.24" stroke="#000" stroke-width="1.3"/>
<line x1="210.95" y1="792.25" x2="216.15" y2="792.25" stroke="#000" stroke-width="1.3"/>
<line x1="213.55" y1="802.80" x2="213.55" y2="806.80" stroke="#000" stroke-width="1.0"/>
<text x="0" y="0" font-size="10.6" text-anchor="end" stroke="#000" stroke-width="0.22" transform="translate(217.55 818.20) scale(1.0 1) rotate(-44)">Fallopian Tube</text>
<rect x="223.35" y="801.57" width="8.3" height="1.23" fill="#2c4b86" stroke="#1c3774" stroke-width="0.7"/>
<line x1="227.69" y1="800.91" x2="227.69" y2="801.22" stroke="#000" stroke-width="1.3"/>
<line x1="225.09" y1="800.91" x2="230.29" y2="800.91" stroke="#000" stroke-width="1.3"/>
<line x1="227.69" y1="802.80" x2="227.69" y2="806.80" stroke="#000" stroke-width="1.0"/>
<text x="0" y="0" font-size="10.6" text-anchor="end" stroke="#000" stroke-width="0.22" transform="translate(231.69 818.20) scale(1.0 1) rotate(-44)">Heart</text>
<rect x="237.35" y="799.53" width="8.3" height="3.27" fill="#2c4b86" stroke="#1c3774" stroke-width="0.7"/>
<line x1="241.84" y1="798.70" x2="241.84" y2="799.18" stroke="#000" stroke-width="1.3"/>
<line x1="239.24" y1="798.70" x2="244.44" y2="798.70" stroke="#000" stroke-width="1.3"/>
<line x1="241.84" y1="802.80" x2="241.84" y2="806.80" stroke="#000" stroke-width="1.0"/>
<text x="0" y="0" font-size="10.6" text-anchor="end" stroke="#000" stroke-width="0.22" transform="translate(245.84 818.20) scale(1.0 1) rotate(-44)">Kidney</text>
<rect x="251.35" y="800.79" width="8.3" height="2.01" fill="#2c4b86" stroke="#1c3774" stroke-width="0.7"/>
<line x1="255.98" y1="800.12" x2="255.98" y2="800.44" stroke="#000" stroke-width="1.3"/>
<line x1="253.38" y1="800.12" x2="258.58" y2="800.12" stroke="#000" stroke-width="1.3"/>
<line x1="255.98" y1="802.80" x2="255.98" y2="806.80" stroke="#000" stroke-width="1.0"/>
<text x="0" y="0" font-size="10.6" text-anchor="end" stroke="#000" stroke-width="0.22" transform="translate(259.99 818.20) scale(1.0 1) rotate(-44)">Liver</text>
<rect x="266.35" y="782.20" width="8.3" height="20.60" fill="#2c4b86" stroke="#1c3774" stroke-width="0.7"/>
<line x1="270.13" y1="781.22" x2="270.13" y2="781.85" stroke="#000" stroke-width="1.3"/>
<line x1="267.53" y1="781.22" x2="272.73" y2="781.22" stroke="#000" stroke-width="1.3"/>
<line x1="270.13" y1="802.80" x2="270.13" y2="806.80" stroke="#000" stroke-width="1.0"/>
<text x="0" y="0" font-size="10.6" text-anchor="end" stroke="#000" stroke-width="0.22" transform="translate(274.13 818.20) scale(1.0 1) rotate(-44)">Lung</text>
<polygon points="263.98,772.77 264.60,774.27 266.21,774.40 264.99,775.45 265.36,777.02 263.98,776.18 262.60,777.02 262.97,775.45 261.75,774.40 263.36,774.27" fill="#000"/>
<polygon points="268.08,772.77 268.70,774.27 270.31,774.40 269.09,775.45 269.46,777.02 268.08,776.18 266.70,777.02 267.07,775.45 265.85,774.40 267.46,774.27" fill="#000"/>
<polygon points="272.18,772.77 272.80,774.27 274.41,774.40 273.19,775.45 273.56,777.02 272.18,776.18 270.80,777.02 271.17,775.45 269.95,774.40 271.56,774.27" fill="#000"/>
<polygon points="276.28,772.77 276.90,774.27 278.51,774.40 277.29,775.45 277.66,777.02 276.28,776.18 274.90,777.02 275.27,775.45 274.05,774.40 275.66,774.27" fill="#000"/>
<rect x="280.35" y="802.20" width="8.3" height="0.59" fill="#2c4b86" stroke="#1c3774" stroke-width="0.7"/>
<line x1="284.27" y1="801.54" x2="284.27" y2="801.85" stroke="#000" stroke-width="1.3"/>
<line x1="281.67" y1="801.54" x2="286.88" y2="801.54" stroke="#000" stroke-width="1.3"/>
<line x1="284.27" y1="802.80" x2="284.27" y2="806.80" stroke="#000" stroke-width="1.0"/>
<text x="0" y="0" font-size="10.6" text-anchor="end" stroke="#000" stroke-width="0.22" transform="translate(288.27 818.20) scale(1.0 1) rotate(-44)">Muscle</text>
<rect x="294.35" y="794.01" width="8.3" height="8.79" fill="#2c4b86" stroke="#1c3774" stroke-width="0.7"/>
<line x1="298.42" y1="793.03" x2="298.42" y2="793.66" stroke="#000" stroke-width="1.3"/>
<line x1="295.82" y1="793.03" x2="301.02" y2="793.03" stroke="#000" stroke-width="1.3"/>
<line x1="298.42" y1="802.80" x2="298.42" y2="806.80" stroke="#000" stroke-width="1.0"/>
<text x="0" y="0" font-size="10.6" text-anchor="end" stroke="#000" stroke-width="0.22" transform="translate(302.42 818.20) scale(1.0 1) rotate(-44)">Nerve</text>
<rect x="308.35" y="800.31" width="8.3" height="2.48" fill="#2c4b86" stroke="#1c3774" stroke-width="0.7"/>
<line x1="312.56" y1="799.65" x2="312.56" y2="799.96" stroke="#000" stroke-width="1.3"/>
<line x1="309.96" y1="799.65" x2="315.17" y2="799.65" stroke="#000" stroke-width="1.3"/>
<line x1="312.56" y1="802.80" x2="312.56" y2="806.80" stroke="#000" stroke-width="1.0"/>
<text x="0" y="0" font-size="10.6" text-anchor="end" stroke="#000" stroke-width="0.22" transform="translate(316.56 818.20) scale(1.0 1) rotate(-44)">Ovary</text>
<rect x="322.35" y="801.73" width="8.3" height="1.07" fill="#2c4b86" stroke="#1c3774" stroke-width="0.7"/>
<line x1="326.71" y1="801.07" x2="326.71" y2="801.38" stroke="#000" stroke-width="1.3"/>
<line x1="324.11" y1="801.07" x2="329.31" y2="801.07" stroke="#000" stroke-width="1.3"/>
<line x1="326.71" y1="802.80" x2="326.71" y2="806.80" stroke="#000" stroke-width="1.0"/>
<text x="0" y="0" font-size="10.6" text-anchor="end" stroke="#000" stroke-width="0.22" transform="translate(330.71 818.20) scale(1.0 1) rotate(-44)">Pancreas</text>
<rect x="336.35" y="800.31" width="8.3" height="2.48" fill="#2c4b86" stroke="#1c3774" stroke-width="0.7"/>
<line x1="340.86" y1="799.65" x2="340.86" y2="799.96" stroke="#000" stroke-width="1.3"/>
<line x1="338.25" y1="799.65" x2="343.46" y2="799.65" stroke="#000" stroke-width="1.3"/>
<line x1="340.86" y1="802.80" x2="340.86" y2="806.80" stroke="#000" stroke-width="1.0"/>
<text x="0" y="0" font-size="10.6" text-anchor="end" stroke="#000" stroke-width="0.22" transform="translate(344.86 818.20) scale(1.0 1) rotate(-44)">Pituitary</text>
<rect x="350.35" y="798.90" width="8.3" height="3.90" fill="#2c4b86" stroke="#1c3774" stroke-width="0.7"/>
<line x1="355.00" y1="798.07" x2="355.00" y2="798.55" stroke="#000" stroke-width="1.3"/>
<line x1="352.40" y1="798.07" x2="357.60" y2="798.07" stroke="#000" stroke-width="1.3"/>
<line x1="355.00" y1="802.80" x2="355.00" y2="806.80" stroke="#000" stroke-width="1.0"/>
<text x="0" y="0" font-size="10.6" text-anchor="end" stroke="#000" stroke-width="0.22" transform="translate(359.00 818.20) scale(1.0 1) rotate(-44)">Prostate</text>
<rect x="365.35" y="798.42" width="8.3" height="4.38" fill="#2c4b86" stroke="#1c3774" stroke-width="0.7"/>
<line x1="369.14" y1="797.60" x2="369.14" y2="798.07" stroke="#000" stroke-width="1.3"/>
<line x1="366.54" y1="797.60" x2="371.75" y2="797.60" stroke="#000" stroke-width="1.3"/>
<line x1="369.14" y1="802.80" x2="369.14" y2="806.80" stroke="#000" stroke-width="1.0"/>
<text x="0" y="0" font-size="10.6" text-anchor="end" stroke="#000" stroke-width="0.22" transform="translate(373.14 818.20) scale(1.0 1) rotate(-44)">Salivary Gland</text>
<rect x="379.35" y="800.16" width="8.3" height="2.64" fill="#2c4b86" stroke="#1c3774" stroke-width="0.7"/>
<line x1="383.29" y1="799.49" x2="383.29" y2="799.81" stroke="#000" stroke-width="1.3"/>
<line x1="380.69" y1="799.49" x2="385.89" y2="799.49" stroke="#000" stroke-width="1.3"/>
<line x1="383.29" y1="802.80" x2="383.29" y2="806.80" stroke="#000" stroke-width="1.0"/>
<text x="0" y="0" font-size="10.6" text-anchor="end" stroke="#000" stroke-width="0.22" transform="translate(387.29 818.20) scale(1.0 1) rotate(-44)">Skin</text>
<rect x="393.35" y="796.38" width="8.3" height="6.42" fill="#2c4b86" stroke="#1c3774" stroke-width="0.7"/>
<line x1="397.43" y1="795.40" x2="397.43" y2="796.03" stroke="#000" stroke-width="1.3"/>
<line x1="394.83" y1="795.40" x2="400.03" y2="795.40" stroke="#000" stroke-width="1.3"/>
<line x1="397.43" y1="802.80" x2="397.43" y2="806.80" stroke="#000" stroke-width="1.0"/>
<text x="0" y="0" font-size="10.6" text-anchor="end" stroke="#000" stroke-width="0.22" transform="translate(401.43 818.20) scale(1.0 1) rotate(-44)">Small Intestine</text>
<rect x="407.35" y="747.87" width="8.3" height="54.93" fill="#a2032d" stroke="#86001f" stroke-width="0.7"/>
<line x1="411.58" y1="745.63" x2="411.58" y2="747.52" stroke="#a2032d" stroke-width="1.3"/>
<line x1="408.98" y1="745.63" x2="414.18" y2="745.63" stroke="#a2032d" stroke-width="1.3"/>
<line x1="411.58" y1="802.80" x2="411.58" y2="806.80" stroke="#000" stroke-width="1.0"/>
<text x="0" y="0" font-size="10.6" text-anchor="end" stroke="#000" stroke-width="0.22" transform="translate(415.58 818.20) scale(1.0 1) rotate(-44)">Spleen</text>
<polygon points="405.43,737.18 406.05,738.67 407.66,738.80 406.44,739.85 406.81,741.43 405.43,740.58 404.05,741.43 404.42,739.85 403.20,738.80 404.81,738.67" fill="#000"/>
<polygon points="409.53,737.18 410.15,738.67 411.76,738.80 410.54,739.85 410.91,741.43 409.53,740.58 408.15,741.43 408.52,739.85 407.30,738.80 408.91,738.67" fill="#000"/>
<polygon points="413.63,737.18 414.25,738.67 415.86,738.80 414.64,739.85 415.01,741.43 413.63,740.58 412.25,741.43 412.62,739.85 411.40,738.80 413.01,738.67" fill="#000"/>
<polygon points="417.73,737.18 418.35,738.67 419.96,738.80 418.74,739.85 419.11,741.43 417.73,740.58 416.35,741.43 416.72,739.85 415.50,738.80 417.11,738.67" fill="#000"/>
<rect x="421.35" y="799.68" width="8.3" height="3.12" fill="#2c4b86" stroke="#1c3774" stroke-width="0.7"/>
<line x1="425.73" y1="799.02" x2="425.73" y2="799.33" stroke="#000" stroke-width="1.3"/>
<line x1="423.12" y1="799.02" x2="428.33" y2="799.02" stroke="#000" stroke-width="1.3"/>
<line x1="425.73" y1="802.80" x2="425.73" y2="806.80" stroke="#000" stroke-width="1.0"/>
<text x="0" y="0" font-size="10.6" text-anchor="end" stroke="#000" stroke-width="0.22" transform="translate(429.73 818.20) scale(1.0 1) rotate(-44)">Stomach</text>
<rect x="435.35" y="801.42" width="8.3" height="1.38" fill="#2c4b86" stroke="#1c3774" stroke-width="0.7"/>
<line x1="439.87" y1="800.75" x2="439.87" y2="801.07" stroke="#000" stroke-width="1.3"/>
<line x1="437.27" y1="800.75" x2="442.47" y2="800.75" stroke="#000" stroke-width="1.3"/>
<line x1="439.87" y1="802.80" x2="439.87" y2="806.80" stroke="#000" stroke-width="1.0"/>
<text x="0" y="0" font-size="10.6" text-anchor="end" stroke="#000" stroke-width="0.22" transform="translate(443.87 818.20) scale(1.0 1) rotate(-44)">Testis</text>
<rect x="450.35" y="800.00" width="8.3" height="2.80" fill="#2c4b86" stroke="#1c3774" stroke-width="0.7"/>
<line x1="454.01" y1="799.33" x2="454.01" y2="799.65" stroke="#000" stroke-width="1.3"/>
<line x1="451.41" y1="799.33" x2="456.62" y2="799.33" stroke="#000" stroke-width="1.3"/>
<line x1="454.01" y1="802.80" x2="454.01" y2="806.80" stroke="#000" stroke-width="1.0"/>
<text x="0" y="0" font-size="10.6" text-anchor="end" stroke="#000" stroke-width="0.22" transform="translate(458.01 818.20) scale(1.0 1) rotate(-44)">Thyroid</text>
<rect x="464.35" y="798.90" width="8.3" height="3.90" fill="#2c4b86" stroke="#1c3774" stroke-width="0.7"/>
<line x1="468.16" y1="798.07" x2="468.16" y2="798.55" stroke="#000" stroke-width="1.3"/>
<line x1="465.56" y1="798.07" x2="470.76" y2="798.07" stroke="#000" stroke-width="1.3"/>
<line x1="468.16" y1="802.80" x2="468.16" y2="806.80" stroke="#000" stroke-width="1.0"/>
<text x="0" y="0" font-size="10.6" text-anchor="end" stroke="#000" stroke-width="0.22" transform="translate(472.16 818.20) scale(1.0 1) rotate(-44)">Uterus</text>
<rect x="478.35" y="798.90" width="8.3" height="3.90" fill="#2c4b86" stroke="#1c3774" stroke-width="0.7"/>
<line x1="482.30" y1="798.07" x2="482.30" y2="798.55" stroke="#000" stroke-width="1.3"/>
<line x1="479.70" y1="798.07" x2="484.90" y2="798.07" stroke="#000" stroke-width="1.3"/>
<line x1="482.30" y1="802.80" x2="482.30" y2="806.80" stroke="#000" stroke-width="1.0"/>
<text x="0" y="0" font-size="10.6" text-anchor="end" stroke="#000" stroke-width="0.22" transform="translate(486.30 818.20) scale(1.0 1) rotate(-44)">Vagina</text>
<rect x="0.75" y="0.75" width="518.5" height="877.5" fill="none" stroke="#000" stroke-width="1.5"/>
</svg>
</body></html>
